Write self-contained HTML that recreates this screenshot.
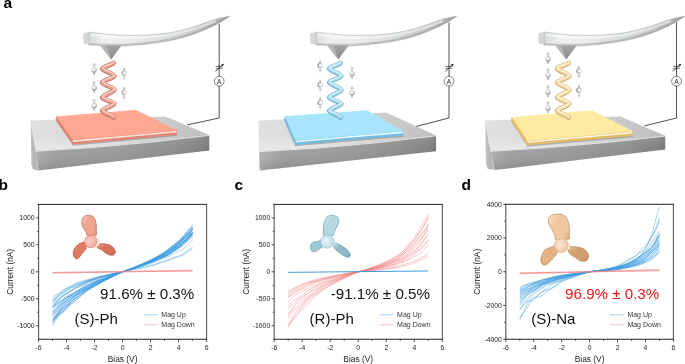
<!DOCTYPE html><html><head><meta charset="utf-8"><style>html,body{margin:0;padding:0;background:#fff;}svg{display:block;will-change:transform;}</style></head><body>
<svg width="685" height="364" viewBox="0 0 685 364">

<defs>
<linearGradient id="subTop" gradientUnits="userSpaceOnUse" x1="30" y1="0" x2="210" y2="0">
 <stop offset="0" stop-color="#dfe1e0"/><stop offset="0.4" stop-color="#d8dad9"/><stop offset="0.75" stop-color="#cacaca"/><stop offset="1" stop-color="#bebebe"/>
</linearGradient>
<linearGradient id="subTopV" x1="0" y1="0" x2="0" y2="1">
 <stop offset="0" stop-color="#fff" stop-opacity="0"/><stop offset="0.6" stop-color="#fff" stop-opacity="0"/><stop offset="1" stop-color="#fff" stop-opacity="0.35"/>
</linearGradient>
<linearGradient id="subFront" gradientUnits="userSpaceOnUse" x1="36" y1="0" x2="210" y2="0">
 <stop offset="0" stop-color="#b0b2b1"/><stop offset="0.1" stop-color="#a0a2a1"/><stop offset="0.45" stop-color="#9a9c9b"/><stop offset="0.8" stop-color="#8c8c8c"/><stop offset="0.95" stop-color="#808080"/><stop offset="1" stop-color="#747474"/>
</linearGradient>
<linearGradient id="subLeft" x1="0" y1="0" x2="1" y2="0">
 <stop offset="0" stop-color="#c6c6c6"/><stop offset="0.5" stop-color="#b4b4b4"/><stop offset="1" stop-color="#c0c0c0"/>
</linearGradient>
<linearGradient id="subFrontV" x1="0" y1="0" x2="0" y2="1">
 <stop offset="0" stop-color="#fff" stop-opacity="0.12"/><stop offset="0.35" stop-color="#fff" stop-opacity="0.03"/><stop offset="0.7" stop-color="#000" stop-opacity="0.03"/><stop offset="1" stop-color="#000" stop-opacity="0.12"/>
</linearGradient>
<linearGradient id="cantGrad" x1="0" y1="0" x2="0" y2="1">
 <stop offset="0" stop-color="#eef1f0"/><stop offset="0.35" stop-color="#e2e6e4"/><stop offset="0.75" stop-color="#d0d4d2"/><stop offset="1" stop-color="#b4b8b6"/>
</linearGradient>
<linearGradient id="cantH" gradientUnits="userSpaceOnUse" x1="89" y1="0" x2="229" y2="0">
 <stop offset="0" stop-color="#d8dcda"/><stop offset="0.1" stop-color="#eef0ef"/><stop offset="0.3" stop-color="#eaeceb"/><stop offset="0.55" stop-color="#d8dcda"/><stop offset="0.8" stop-color="#c4c8c6"/><stop offset="1" stop-color="#a4a8a6"/>
</linearGradient>
<linearGradient id="subFrontH" x1="0" y1="0" x2="1" y2="0">
 <stop offset="0" stop-color="#fff" stop-opacity="0.12"/><stop offset="0.5" stop-color="#000" stop-opacity="0"/><stop offset="0.9" stop-color="#000" stop-opacity="0.08"/><stop offset="1" stop-color="#000" stop-opacity="0.25"/>
</linearGradient>
<linearGradient id="tipGrad" x1="0" y1="0" x2="0" y2="1">
 <stop offset="0" stop-color="#a4a4a4"/><stop offset="1" stop-color="#8a8a8a"/>
</linearGradient>
<filter id="blur1" x="-10%" y="-50%" width="120%" height="200%"><feGaussianBlur stdDeviation="0.5"/></filter>
<radialGradient id="sph" cx="0.45" cy="0.4" r="0.65">
 <stop offset="0" stop-color="#ffffff"/><stop offset="0.45" stop-color="#e4e4e4"/><stop offset="1" stop-color="#7a7a7a"/>
</radialGradient>
<radialGradient id="sph2" cx="0.62" cy="0.5" r="0.7">
 <stop offset="0" stop-color="#ffffff"/><stop offset="0.4" stop-color="#e8e8e8"/><stop offset="1" stop-color="#6a6a6a"/>
</radialGradient>
<linearGradient id="pbb0" x1="0" y1="0" x2="1" y2="1"><stop offset="0" stop-color="#fac8b8"/><stop offset="0.35" stop-color="#eea592"/><stop offset="0.75" stop-color="#eea592"/><stop offset="1" stop-color="#dc8672"/></linearGradient><linearGradient id="pbb1" x1="0" y1="0" x2="1" y2="1"><stop offset="0" stop-color="#f09c88"/><stop offset="0.35" stop-color="#e07a62"/><stop offset="0.75" stop-color="#e07a62"/><stop offset="1" stop-color="#c8644e"/></linearGradient><linearGradient id="pbb2" x1="0" y1="0" x2="1" y2="1"><stop offset="0" stop-color="#eb9a84"/><stop offset="0.35" stop-color="#d4745c"/><stop offset="0.75" stop-color="#d4745c"/><stop offset="1" stop-color="#bc5e48"/></linearGradient><radialGradient id="pbh" cx="0.42" cy="0.45" r="0.62"><stop offset="0" stop-color="#fccfc4"/><stop offset="1" stop-color="#f0a898"/></radialGradient><linearGradient id="pcb0" x1="0" y1="0" x2="1" y2="1"><stop offset="0" stop-color="#d8eef6"/><stop offset="0.35" stop-color="#b4d8e2"/><stop offset="0.75" stop-color="#b4d8e2"/><stop offset="1" stop-color="#94c0d0"/></linearGradient><linearGradient id="pcb1" x1="0" y1="0" x2="1" y2="1"><stop offset="0" stop-color="#b8dce8"/><stop offset="0.35" stop-color="#9cc8d6"/><stop offset="0.75" stop-color="#9cc8d6"/><stop offset="1" stop-color="#84b2c4"/></linearGradient><linearGradient id="pcb2" x1="0" y1="0" x2="1" y2="1"><stop offset="0" stop-color="#c8e4ee"/><stop offset="0.35" stop-color="#90b8c8"/><stop offset="0.75" stop-color="#90b8c8"/><stop offset="1" stop-color="#7aa4b6"/></linearGradient><radialGradient id="pch" cx="0.42" cy="0.45" r="0.62"><stop offset="0" stop-color="#e6f6fb"/><stop offset="1" stop-color="#b8dce8"/></radialGradient><linearGradient id="pdb0" x1="0" y1="0" x2="1" y2="1"><stop offset="0" stop-color="#fbe2c6"/><stop offset="0.35" stop-color="#f0c8a0"/><stop offset="0.75" stop-color="#f0c8a0"/><stop offset="1" stop-color="#d8a676"/></linearGradient><linearGradient id="pdb1" x1="0" y1="0" x2="1" y2="1"><stop offset="0" stop-color="#f2cca4"/><stop offset="0.35" stop-color="#e4b282"/><stop offset="0.75" stop-color="#e4b282"/><stop offset="1" stop-color="#c8966a"/></linearGradient><linearGradient id="pdb2" x1="0" y1="0" x2="1" y2="1"><stop offset="0" stop-color="#ecc294"/><stop offset="0.35" stop-color="#d0a070"/><stop offset="0.75" stop-color="#d0a070"/><stop offset="1" stop-color="#b8895c"/></linearGradient><radialGradient id="pdh" cx="0.42" cy="0.45" r="0.62"><stop offset="0" stop-color="#fde6d0"/><stop offset="1" stop-color="#eec6a0"/></radialGradient></defs>
<text x="3.6" y="8" font-size="15.5" font-weight="bold" font-family="'Liberation Sans', sans-serif">a</text>
<g transform="translate(0,0)">
<polygon points="30.7,120.4 165.4,116.5 209.3,135 150,141.80400000000003 90,147.33400000000003 35.8,150.8" fill="url(#subTop)"/>
<polygon points="30.7,120.4 165.4,116.5 209.3,135 150,141.80400000000003 90,147.33400000000003 35.8,150.8" fill="url(#subTopV)"/>
<polygon points="35.8,150.8 90,147.33400000000003 150,141.80400000000003 209.3,135 209.3,150.5 38.4,170.4" fill="url(#subFront)"/>
<polygon points="35.8,150.8 90,147.33400000000003 150,141.80400000000003 209.3,135 209.3,150.5 38.4,170.4" fill="url(#subFrontV)"/>
<polygon points="30.7,120.4 35.8,150.8 38.4,170.4 32.9,169.20000000000002 31.3,164.4" fill="url(#subLeft)"/>
<polyline points="30.7,120.4 35.8,150.8" stroke="#e6e6e6" stroke-width="0.6" fill="none"/>
<polyline points="35.8,151.20000000000002 90,147.73400000000004 150,142.20400000000004 209.3,135.4" stroke="#ececec" stroke-width="0.9" fill="none"/>
<polygon points="56.4,117.8 72.10000000000001,141.6 70.7,142.6 54.9,119.3" fill="#9a9a9a" opacity="0.45" filter="url(#blur1)"/>
<polygon points="71.9,143.29999999999998 176.8,133.89999999999998 177.10000000000002,135.99999999999997 72.4,145.79999999999998" fill="#8c8c8c" opacity="0.6" filter="url(#blur1)"/>
<polygon points="56.9,116.8 72.9,139.6 176.3,130.2 176.3,134.39999999999998 72.9,143.79999999999998 56.9,121.0" fill="#e08672" stroke="#e08672" stroke-width="1.2" stroke-linejoin="round"/>
<polyline points="73.5,141.1 176.10000000000002,131.7" stroke="#ffe4dc" stroke-width="1.6" fill="none" stroke-linecap="round" stroke-linejoin="round"/>
<polygon points="56.9,116.8 135.8,110.3 176.3,130.2 72.9,139.6" fill="#fea892" stroke="#fea892" stroke-width="0.8" stroke-linejoin="round"/>
<polyline points="219.2,24 219.2,118 187.3,124.9" stroke="#222" stroke-width="0.8" fill="none"/>
<circle cx="219.2" cy="81.2" r="4.9" fill="#fff" stroke="#333" stroke-width="0.6"/>
<text x="219.2" y="83.6" font-size="6.5" text-anchor="middle" font-family="'Liberation Sans', sans-serif" fill="#222">A</text>
<line x1="215.79999999999998" y1="66.8" x2="222.6" y2="66.0" stroke="#333" stroke-width="0.7"/>
<line x1="215.79999999999998" y1="68.8" x2="222.6" y2="68.0" stroke="#333" stroke-width="0.7"/>
<line x1="215.29999999999998" y1="71.5" x2="223.29999999999998" y2="64.4" stroke="#222" stroke-width="0.7"/>
<polygon points="224.0,63.8 221.2,64.6 222.79999999999998,66.2" fill="#222"/>
<path d="M113.6,62.9 C113.6,64.64 102.2,66.96000000000001 102.2,68.7 C102.2,70.89 114.3,73.81 114.3,76 C114.3,77.95 102.2,80.55 102.2,82.5 C102.2,84.69 114.3,87.61 114.3,89.8 C114.3,92.14 102.2,95.25999999999999 102.2,97.6 C102.2,99.42999999999999 114.3,101.87 114.3,103.7 C114.3,105.83 102.2,108.67 102.2,110.8 C102.2,112.84 113.6,115.56 113.6,117.6" stroke="#c27060" stroke-width="4.8" fill="none" stroke-linecap="round"/>
<path d="M113.6,62.9 C113.6,64.64 102.2,66.96000000000001 102.2,68.7 C102.2,70.89 114.3,73.81 114.3,76 C114.3,77.95 102.2,80.55 102.2,82.5 C102.2,84.69 114.3,87.61 114.3,89.8 C114.3,92.14 102.2,95.25999999999999 102.2,97.6 C102.2,99.42999999999999 114.3,101.87 114.3,103.7 C114.3,105.83 102.2,108.67 102.2,110.8 C102.2,112.84 113.6,115.56 113.6,117.6" stroke="#eda090" stroke-width="3.5" fill="none" stroke-linecap="round" transform="translate(0.2,-0.35)"/>
<path d="M113.6,62.9 C113.6,64.64 102.2,66.96000000000001 102.2,68.7 C102.2,70.89 114.3,73.81 114.3,76 C114.3,77.95 102.2,80.55 102.2,82.5 C102.2,84.69 114.3,87.61 114.3,89.8 C114.3,92.14 102.2,95.25999999999999 102.2,97.6 C102.2,99.42999999999999 114.3,101.87 114.3,103.7 C114.3,105.83 102.2,108.67 102.2,110.8 C102.2,112.84 113.6,115.56 113.6,117.6" stroke="#fde0d8" stroke-width="1.2" fill="none" stroke-linecap="round" opacity="0.85" transform="translate(0.3,-0.9)"/>
<line x1="94.1" y1="68" x2="94.1" y2="65" stroke="#c4c4c4" stroke-width="1.3"/><polygon points="92.1,65.6 96.1,65.6 94.1,62.8" fill="#c8c8c8"/><line x1="94.1" y1="72" x2="94.1" y2="75" stroke="#8a8a8a" stroke-width="1"/><circle cx="94.1" cy="70" r="2.6" fill="url(#sph)"/>
<line x1="94.1" y1="85.9" x2="94.1" y2="82.9" stroke="#c4c4c4" stroke-width="1.3"/><polygon points="92.1,83.5 96.1,83.5 94.1,80.7" fill="#c8c8c8"/><line x1="94.1" y1="89.9" x2="94.1" y2="92.9" stroke="#8a8a8a" stroke-width="1"/><circle cx="94.1" cy="87.9" r="2.6" fill="url(#sph)"/>
<line x1="94.1" y1="103.7" x2="94.1" y2="100.7" stroke="#c4c4c4" stroke-width="1.3"/><polygon points="92.1,101.3 96.1,101.3 94.1,98.5" fill="#c8c8c8"/><line x1="94.1" y1="107.7" x2="94.1" y2="110.7" stroke="#8a8a8a" stroke-width="1"/><circle cx="94.1" cy="105.7" r="2.6" fill="url(#sph)"/>
<line x1="124.2" y1="75" x2="124.2" y2="78" stroke="#c8ccca" stroke-width="1.3"/><polygon points="122.2,77.4 126.2,77.4 124.2,80.2" fill="#ccd0ce"/><line x1="124.2" y1="71" x2="124.2" y2="68" stroke="#8a8a8a" stroke-width="1"/><circle cx="124.2" cy="73" r="2.6" fill="url(#sph2)"/>
<line x1="124.2" y1="94.3" x2="124.2" y2="97.3" stroke="#c8ccca" stroke-width="1.3"/><polygon points="122.2,96.7 126.2,96.7 124.2,99.5" fill="#ccd0ce"/><line x1="124.2" y1="90.3" x2="124.2" y2="87.3" stroke="#8a8a8a" stroke-width="1"/><circle cx="124.2" cy="92.3" r="2.6" fill="url(#sph2)"/>
<clipPath id="cantClip1"><path d="M89.00,32.00 C92.00,32.37 100.95,33.65 107.00,34.20 C113.05,34.75 118.48,35.18 125.30,35.30 C132.12,35.42 140.37,35.35 147.90,34.90 C155.43,34.45 162.97,33.92 170.50,32.60 C178.03,31.28 185.55,29.23 193.10,27.00 C200.65,24.77 209.73,21.00 215.80,19.20 C221.87,17.40 227.22,16.70 229.50,16.20 L229.50,16.40 C227.22,17.78 221.87,21.70 215.80,24.70 C209.73,27.70 200.65,31.77 193.10,34.40 C185.55,37.03 178.03,38.92 170.50,40.50 C162.97,42.08 155.43,43.02 147.90,43.90 C140.37,44.78 132.12,45.50 125.30,45.80 C118.48,46.10 113.05,45.82 107.00,45.70 C100.95,45.58 92.00,45.20 89.00,45.10 Z"/></clipPath>
<path d="M89.00,32.00 C92.00,32.37 100.95,33.65 107.00,34.20 C113.05,34.75 118.48,35.18 125.30,35.30 C132.12,35.42 140.37,35.35 147.90,34.90 C155.43,34.45 162.97,33.92 170.50,32.60 C178.03,31.28 185.55,29.23 193.10,27.00 C200.65,24.77 209.73,21.00 215.80,19.20 C221.87,17.40 227.22,16.70 229.50,16.20 L229.50,16.40 C227.22,17.78 221.87,21.70 215.80,24.70 C209.73,27.70 200.65,31.77 193.10,34.40 C185.55,37.03 178.03,38.92 170.50,40.50 C162.97,42.08 155.43,43.02 147.90,43.90 C140.37,44.78 132.12,45.50 125.30,45.80 C118.48,46.10 113.05,45.82 107.00,45.70 C100.95,45.58 92.00,45.20 89.00,45.10 Z" fill="url(#cantH)" stroke="#a0a4a2" stroke-width="0.5"/>
<path d="M91.00,34.60 C93.67,34.93 101.28,36.10 107.00,36.60 C112.72,37.10 118.48,37.53 125.30,37.60 C132.12,37.67 140.37,37.50 147.90,37.00 C155.43,36.50 162.97,35.93 170.50,34.60 C178.03,33.27 185.55,31.27 193.10,29.00 C200.65,26.73 212.02,22.33 215.80,21.00" stroke="#ffffff" stroke-width="2.6" fill="none" opacity="0.45" clip-path="url(#cantClip1)"/>
<path d="M89.00,44.20 C92.00,44.30 100.95,44.68 107.00,44.80 C113.05,44.92 118.48,45.20 125.30,44.90 C132.12,44.60 140.37,43.88 147.90,43.00 C155.43,42.12 162.97,41.18 170.50,39.60 C178.03,38.02 185.55,36.12 193.10,33.50 C200.65,30.88 209.73,26.75 215.80,23.90 C221.87,21.05 227.22,17.65 229.50,16.40" stroke="#8e9290" stroke-width="2.4" fill="none" opacity="0.4" clip-path="url(#cantClip1)"/>
<polygon points="83.2,33.2 89,31.9 89,44.8 83.4,43.5" fill="#d6d8d7"/>
<line x1="89" y1="32" x2="89" y2="44.8" stroke="#c4c8c6" stroke-width="0.6"/>
<polygon points="100.4,45.6 121.6,45.6 111.3,59.6" fill="url(#tipGrad)"/>
<polygon points="100.4,45.6 106.5,45.6 111.3,59.6" fill="#b6b6b6"/>
</g>
<g transform="translate(227,0)">
<polygon points="31.7,120.8 159.2,112.6 209.1,135.5 150,142.26600000000002 90,147.761 32.2,151.2" fill="url(#subTop)"/>
<polygon points="31.7,120.8 159.2,112.6 209.1,135.5 150,142.26600000000002 90,147.761 32.2,151.2" fill="url(#subTopV)"/>
<polygon points="32.2,151.2 90,147.761 150,142.26600000000002 209.1,135.5 209.1,151.2 32.8,170.4" fill="url(#subFront)"/>
<polygon points="32.2,151.2 90,147.761 150,142.26600000000002 209.1,135.5 209.1,151.2 32.8,170.4" fill="url(#subFrontV)"/>
<polygon points="31.7,120.8 32.2,151.2 32.8,170.4 33.9,169.20000000000002 32.3,164.4" fill="url(#subLeft)"/>
<polyline points="31.7,120.8 32.2,151.2" stroke="#e6e6e6" stroke-width="0.6" fill="none"/>
<polyline points="32.2,151.6 90,148.161 150,142.66600000000003 209.1,135.9" stroke="#ececec" stroke-width="0.9" fill="none"/>
<polygon points="57.8,117.5 67.8,142 66.39999999999999,143 56.3,119.0" fill="#9a9a9a" opacity="0.45" filter="url(#blur1)"/>
<polygon points="67.6,143.7 176.1,134.6 176.4,136.7 68.1,146.2" fill="#8c8c8c" opacity="0.6" filter="url(#blur1)"/>
<polygon points="58.3,116.5 68.6,140 175.6,130.9 175.6,135.1 68.6,144.2 58.3,120.7" fill="#72bce0" stroke="#72bce0" stroke-width="1.2" stroke-linejoin="round"/>
<polyline points="69.19999999999999,141.5 175.4,132.4" stroke="#e8f8ff" stroke-width="1.6" fill="none" stroke-linecap="round" stroke-linejoin="round"/>
<polygon points="58.3,116.5 140,110.7 175.6,130.9 68.6,140" fill="#a8e4fc" stroke="#a8e4fc" stroke-width="0.8" stroke-linejoin="round"/>
<polyline points="222,22.5 222,118 189.3,126.4" stroke="#222" stroke-width="0.8" fill="none"/>
<circle cx="222" cy="81.2" r="4.9" fill="#fff" stroke="#333" stroke-width="0.6"/>
<text x="222" y="83.6" font-size="6.5" text-anchor="middle" font-family="'Liberation Sans', sans-serif" fill="#222">A</text>
<line x1="218.6" y1="66.8" x2="225.4" y2="66.0" stroke="#333" stroke-width="0.7"/>
<line x1="218.6" y1="68.8" x2="225.4" y2="68.0" stroke="#333" stroke-width="0.7"/>
<line x1="218.1" y1="71.5" x2="226.1" y2="64.4" stroke="#222" stroke-width="0.7"/>
<polygon points="226.8,63.8 224,64.6 225.6,66.2" fill="#222"/>
<path d="M113.6,62.9 C113.6,64.64 102.2,66.96000000000001 102.2,68.7 C102.2,70.89 114.3,73.81 114.3,76 C114.3,77.95 102.2,80.55 102.2,82.5 C102.2,84.69 114.3,87.61 114.3,89.8 C114.3,92.14 102.2,95.25999999999999 102.2,97.6 C102.2,99.42999999999999 114.3,101.87 114.3,103.7 C114.3,105.83 102.2,108.67 102.2,110.8 C102.2,112.84 113.6,115.56 113.6,117.6" stroke="#6aaccc" stroke-width="4.8" fill="none" stroke-linecap="round"/>
<path d="M113.6,62.9 C113.6,64.64 102.2,66.96000000000001 102.2,68.7 C102.2,70.89 114.3,73.81 114.3,76 C114.3,77.95 102.2,80.55 102.2,82.5 C102.2,84.69 114.3,87.61 114.3,89.8 C114.3,92.14 102.2,95.25999999999999 102.2,97.6 C102.2,99.42999999999999 114.3,101.87 114.3,103.7 C114.3,105.83 102.2,108.67 102.2,110.8 C102.2,112.84 113.6,115.56 113.6,117.6" stroke="#a8daf0" stroke-width="3.5" fill="none" stroke-linecap="round" transform="translate(0.2,-0.35)"/>
<path d="M113.6,62.9 C113.6,64.64 102.2,66.96000000000001 102.2,68.7 C102.2,70.89 114.3,73.81 114.3,76 C114.3,77.95 102.2,80.55 102.2,82.5 C102.2,84.69 114.3,87.61 114.3,89.8 C114.3,92.14 102.2,95.25999999999999 102.2,97.6 C102.2,99.42999999999999 114.3,101.87 114.3,103.7 C114.3,105.83 102.2,108.67 102.2,110.8 C102.2,112.84 113.6,115.56 113.6,117.6" stroke="#e6f7fd" stroke-width="1.2" fill="none" stroke-linecap="round" opacity="0.85" transform="translate(0.3,-0.9)"/>
<line x1="93.1" y1="67.4" x2="93.1" y2="70.4" stroke="#c8ccca" stroke-width="1.3"/><polygon points="91.1,69.80000000000001 95.1,69.80000000000001 93.1,72.60000000000001" fill="#ccd0ce"/><line x1="93.1" y1="63.400000000000006" x2="93.1" y2="60.400000000000006" stroke="#8a8a8a" stroke-width="1"/><circle cx="93.1" cy="65.4" r="2.6" fill="url(#sph2)"/>
<line x1="93.1" y1="86.7" x2="93.1" y2="89.7" stroke="#c8ccca" stroke-width="1.3"/><polygon points="91.1,89.10000000000001 95.1,89.10000000000001 93.1,91.9" fill="#ccd0ce"/><line x1="93.1" y1="82.7" x2="93.1" y2="79.7" stroke="#8a8a8a" stroke-width="1"/><circle cx="93.1" cy="84.7" r="2.6" fill="url(#sph2)"/>
<line x1="93.1" y1="104.4" x2="93.1" y2="107.4" stroke="#c8ccca" stroke-width="1.3"/><polygon points="91.1,106.80000000000001 95.1,106.80000000000001 93.1,109.60000000000001" fill="#ccd0ce"/><line x1="93.1" y1="100.4" x2="93.1" y2="97.4" stroke="#8a8a8a" stroke-width="1"/><circle cx="93.1" cy="102.4" r="2.6" fill="url(#sph2)"/>
<line x1="125" y1="71.6" x2="125" y2="68.6" stroke="#c4c4c4" stroke-width="1.3"/><polygon points="123,69.19999999999999 127,69.19999999999999 125,66.39999999999999" fill="#c8c8c8"/><line x1="125" y1="75.6" x2="125" y2="78.6" stroke="#8a8a8a" stroke-width="1"/><circle cx="125" cy="73.6" r="2.6" fill="url(#sph)"/>
<line x1="125" y1="90.8" x2="125" y2="87.8" stroke="#c4c4c4" stroke-width="1.3"/><polygon points="123,88.39999999999999 127,88.39999999999999 125,85.6" fill="#c8c8c8"/><line x1="125" y1="94.8" x2="125" y2="97.8" stroke="#8a8a8a" stroke-width="1"/><circle cx="125" cy="92.8" r="2.6" fill="url(#sph)"/>
<clipPath id="cantClip2"><path d="M89.00,32.00 C92.00,32.37 100.95,33.65 107.00,34.20 C113.05,34.75 118.48,35.18 125.30,35.30 C132.12,35.42 140.37,35.35 147.90,34.90 C155.43,34.45 162.97,33.92 170.50,32.60 C178.03,31.28 185.55,29.23 193.10,27.00 C200.65,24.77 209.73,21.00 215.80,19.20 C221.87,17.40 227.22,16.70 229.50,16.20 L229.50,16.40 C227.22,17.78 221.87,21.70 215.80,24.70 C209.73,27.70 200.65,31.77 193.10,34.40 C185.55,37.03 178.03,38.92 170.50,40.50 C162.97,42.08 155.43,43.02 147.90,43.90 C140.37,44.78 132.12,45.50 125.30,45.80 C118.48,46.10 113.05,45.82 107.00,45.70 C100.95,45.58 92.00,45.20 89.00,45.10 Z"/></clipPath>
<path d="M89.00,32.00 C92.00,32.37 100.95,33.65 107.00,34.20 C113.05,34.75 118.48,35.18 125.30,35.30 C132.12,35.42 140.37,35.35 147.90,34.90 C155.43,34.45 162.97,33.92 170.50,32.60 C178.03,31.28 185.55,29.23 193.10,27.00 C200.65,24.77 209.73,21.00 215.80,19.20 C221.87,17.40 227.22,16.70 229.50,16.20 L229.50,16.40 C227.22,17.78 221.87,21.70 215.80,24.70 C209.73,27.70 200.65,31.77 193.10,34.40 C185.55,37.03 178.03,38.92 170.50,40.50 C162.97,42.08 155.43,43.02 147.90,43.90 C140.37,44.78 132.12,45.50 125.30,45.80 C118.48,46.10 113.05,45.82 107.00,45.70 C100.95,45.58 92.00,45.20 89.00,45.10 Z" fill="url(#cantH)" stroke="#a0a4a2" stroke-width="0.5"/>
<path d="M91.00,34.60 C93.67,34.93 101.28,36.10 107.00,36.60 C112.72,37.10 118.48,37.53 125.30,37.60 C132.12,37.67 140.37,37.50 147.90,37.00 C155.43,36.50 162.97,35.93 170.50,34.60 C178.03,33.27 185.55,31.27 193.10,29.00 C200.65,26.73 212.02,22.33 215.80,21.00" stroke="#ffffff" stroke-width="2.6" fill="none" opacity="0.45" clip-path="url(#cantClip2)"/>
<path d="M89.00,44.20 C92.00,44.30 100.95,44.68 107.00,44.80 C113.05,44.92 118.48,45.20 125.30,44.90 C132.12,44.60 140.37,43.88 147.90,43.00 C155.43,42.12 162.97,41.18 170.50,39.60 C178.03,38.02 185.55,36.12 193.10,33.50 C200.65,30.88 209.73,26.75 215.80,23.90 C221.87,21.05 227.22,17.65 229.50,16.40" stroke="#8e9290" stroke-width="2.4" fill="none" opacity="0.4" clip-path="url(#cantClip2)"/>
<polygon points="83.2,33.2 89,31.9 89,44.8 83.4,43.5" fill="#d6d8d7"/>
<line x1="89" y1="32" x2="89" y2="44.8" stroke="#c4c8c6" stroke-width="0.6"/>
<polygon points="100.4,45.6 121.6,45.6 111.3,59.6" fill="url(#tipGrad)"/>
<polygon points="100.4,45.6 106.5,45.6 111.3,59.6" fill="#b6b6b6"/>
</g>
<g transform="translate(455,0)">
<polygon points="30.3,120.6 165.5,116.4 210.2,135.7 150,142.238 90,147.52300000000002 35.5,150.8" fill="url(#subTop)"/>
<polygon points="30.3,120.6 165.5,116.4 210.2,135.7 150,142.238 90,147.52300000000002 35.5,150.8" fill="url(#subTopV)"/>
<polygon points="35.5,150.8 90,147.52300000000002 150,142.238 210.2,135.7 210.2,149.5 39.6,170" fill="url(#subFront)"/>
<polygon points="35.5,150.8 90,147.52300000000002 150,142.238 210.2,135.7 210.2,149.5 39.6,170" fill="url(#subFrontV)"/>
<polygon points="30.3,120.6 35.5,150.8 39.6,170 32.5,168.8 30.900000000000002,164" fill="url(#subLeft)"/>
<polyline points="30.3,120.6 35.5,150.8" stroke="#e6e6e6" stroke-width="0.6" fill="none"/>
<polyline points="35.5,151.20000000000002 90,147.92300000000003 150,142.638 210.2,136.1" stroke="#ececec" stroke-width="0.9" fill="none"/>
<polygon points="56.6,118.5 71.7,142.5 70.3,143.5 55.1,120.0" fill="#9a9a9a" opacity="0.45" filter="url(#blur1)"/>
<polygon points="71.5,144.2 177.6,134.89999999999998 177.9,136.99999999999997 72.0,146.7" fill="#8c8c8c" opacity="0.6" filter="url(#blur1)"/>
<polygon points="57.1,117.5 72.5,140.5 177.1,131.2 177.1,135.39999999999998 72.5,144.7 57.1,121.7" fill="#e0bc68" stroke="#e0bc68" stroke-width="1.2" stroke-linejoin="round"/>
<polyline points="73.1,142.0 176.9,132.7" stroke="#fff8e0" stroke-width="1.6" fill="none" stroke-linecap="round" stroke-linejoin="round"/>
<polygon points="57.1,117.5 137,110.7 177.1,131.2 72.5,140.5" fill="#feeaa2" stroke="#feeaa2" stroke-width="0.8" stroke-linejoin="round"/>
<polyline points="221.5,22.4 221.5,118 189.3,125.9" stroke="#222" stroke-width="0.8" fill="none"/>
<circle cx="221.5" cy="81.2" r="4.9" fill="#fff" stroke="#333" stroke-width="0.6"/>
<text x="221.5" y="83.6" font-size="6.5" text-anchor="middle" font-family="'Liberation Sans', sans-serif" fill="#222">A</text>
<line x1="218.1" y1="66.8" x2="224.9" y2="66.0" stroke="#333" stroke-width="0.7"/>
<line x1="218.1" y1="68.8" x2="224.9" y2="68.0" stroke="#333" stroke-width="0.7"/>
<line x1="217.6" y1="71.5" x2="225.6" y2="64.4" stroke="#222" stroke-width="0.7"/>
<polygon points="226.3,63.8 223.5,64.6 225.1,66.2" fill="#222"/>
<path d="M113.6,62.9 C113.6,64.64 102.2,66.96000000000001 102.2,68.7 C102.2,70.89 114.3,73.81 114.3,76 C114.3,77.95 102.2,80.55 102.2,82.5 C102.2,84.69 114.3,87.61 114.3,89.8 C114.3,92.14 102.2,95.25999999999999 102.2,97.6 C102.2,99.42999999999999 114.3,101.87 114.3,103.7 C114.3,105.83 102.2,108.67 102.2,110.8 C102.2,112.84 113.6,115.56 113.6,117.6" stroke="#caa868" stroke-width="4.8" fill="none" stroke-linecap="round"/>
<path d="M113.6,62.9 C113.6,64.64 102.2,66.96000000000001 102.2,68.7 C102.2,70.89 114.3,73.81 114.3,76 C114.3,77.95 102.2,80.55 102.2,82.5 C102.2,84.69 114.3,87.61 114.3,89.8 C114.3,92.14 102.2,95.25999999999999 102.2,97.6 C102.2,99.42999999999999 114.3,101.87 114.3,103.7 C114.3,105.83 102.2,108.67 102.2,110.8 C102.2,112.84 113.6,115.56 113.6,117.6" stroke="#f4dcaa" stroke-width="3.5" fill="none" stroke-linecap="round" transform="translate(0.2,-0.35)"/>
<path d="M113.6,62.9 C113.6,64.64 102.2,66.96000000000001 102.2,68.7 C102.2,70.89 114.3,73.81 114.3,76 C114.3,77.95 102.2,80.55 102.2,82.5 C102.2,84.69 114.3,87.61 114.3,89.8 C114.3,92.14 102.2,95.25999999999999 102.2,97.6 C102.2,99.42999999999999 114.3,101.87 114.3,103.7 C114.3,105.83 102.2,108.67 102.2,110.8 C102.2,112.84 113.6,115.56 113.6,117.6" stroke="#fff8e8" stroke-width="1.2" fill="none" stroke-linecap="round" opacity="0.85" transform="translate(0.3,-0.9)"/>
<line x1="93" y1="56.9" x2="93" y2="53.9" stroke="#c4c4c4" stroke-width="1.3"/><polygon points="91,54.5 95,54.5 93,51.699999999999996" fill="#c8c8c8"/><line x1="93" y1="60.9" x2="93" y2="63.9" stroke="#8a8a8a" stroke-width="1"/><circle cx="93" cy="58.9" r="2.6" fill="url(#sph)"/>
<line x1="93" y1="73" x2="93" y2="70" stroke="#c4c4c4" stroke-width="1.3"/><polygon points="91,70.6 95,70.6 93,67.8" fill="#c8c8c8"/><line x1="93" y1="77" x2="93" y2="80" stroke="#8a8a8a" stroke-width="1"/><circle cx="93" cy="75" r="2.6" fill="url(#sph)"/>
<line x1="93" y1="90" x2="93" y2="87" stroke="#c4c4c4" stroke-width="1.3"/><polygon points="91,87.6 95,87.6 93,84.8" fill="#c8c8c8"/><line x1="93" y1="94" x2="93" y2="97" stroke="#8a8a8a" stroke-width="1"/><circle cx="93" cy="92" r="2.6" fill="url(#sph)"/>
<line x1="93" y1="106" x2="93" y2="103" stroke="#c4c4c4" stroke-width="1.3"/><polygon points="91,103.6 95,103.6 93,100.8" fill="#c8c8c8"/><line x1="93" y1="110" x2="93" y2="113" stroke="#8a8a8a" stroke-width="1"/><circle cx="93" cy="108" r="2.6" fill="url(#sph)"/>
<line x1="123.9" y1="73.1" x2="123.9" y2="76.1" stroke="#c8ccca" stroke-width="1.3"/><polygon points="121.9,75.5 125.9,75.5 123.9,78.3" fill="#ccd0ce"/><line x1="123.9" y1="69.1" x2="123.9" y2="66.1" stroke="#8a8a8a" stroke-width="1"/><circle cx="123.9" cy="71.1" r="2.6" fill="url(#sph2)"/>
<line x1="123.9" y1="92.2" x2="123.9" y2="95.2" stroke="#c8ccca" stroke-width="1.3"/><polygon points="121.9,94.60000000000001 125.9,94.60000000000001 123.9,97.4" fill="#ccd0ce"/><line x1="123.9" y1="88.2" x2="123.9" y2="85.2" stroke="#8a8a8a" stroke-width="1"/><circle cx="123.9" cy="90.2" r="2.6" fill="url(#sph2)"/>
<clipPath id="cantClip3"><path d="M89.00,32.00 C92.00,32.37 100.95,33.65 107.00,34.20 C113.05,34.75 118.48,35.18 125.30,35.30 C132.12,35.42 140.37,35.35 147.90,34.90 C155.43,34.45 162.97,33.92 170.50,32.60 C178.03,31.28 185.55,29.23 193.10,27.00 C200.65,24.77 209.73,21.00 215.80,19.20 C221.87,17.40 227.22,16.70 229.50,16.20 L229.50,16.40 C227.22,17.78 221.87,21.70 215.80,24.70 C209.73,27.70 200.65,31.77 193.10,34.40 C185.55,37.03 178.03,38.92 170.50,40.50 C162.97,42.08 155.43,43.02 147.90,43.90 C140.37,44.78 132.12,45.50 125.30,45.80 C118.48,46.10 113.05,45.82 107.00,45.70 C100.95,45.58 92.00,45.20 89.00,45.10 Z"/></clipPath>
<path d="M89.00,32.00 C92.00,32.37 100.95,33.65 107.00,34.20 C113.05,34.75 118.48,35.18 125.30,35.30 C132.12,35.42 140.37,35.35 147.90,34.90 C155.43,34.45 162.97,33.92 170.50,32.60 C178.03,31.28 185.55,29.23 193.10,27.00 C200.65,24.77 209.73,21.00 215.80,19.20 C221.87,17.40 227.22,16.70 229.50,16.20 L229.50,16.40 C227.22,17.78 221.87,21.70 215.80,24.70 C209.73,27.70 200.65,31.77 193.10,34.40 C185.55,37.03 178.03,38.92 170.50,40.50 C162.97,42.08 155.43,43.02 147.90,43.90 C140.37,44.78 132.12,45.50 125.30,45.80 C118.48,46.10 113.05,45.82 107.00,45.70 C100.95,45.58 92.00,45.20 89.00,45.10 Z" fill="url(#cantH)" stroke="#a0a4a2" stroke-width="0.5"/>
<path d="M91.00,34.60 C93.67,34.93 101.28,36.10 107.00,36.60 C112.72,37.10 118.48,37.53 125.30,37.60 C132.12,37.67 140.37,37.50 147.90,37.00 C155.43,36.50 162.97,35.93 170.50,34.60 C178.03,33.27 185.55,31.27 193.10,29.00 C200.65,26.73 212.02,22.33 215.80,21.00" stroke="#ffffff" stroke-width="2.6" fill="none" opacity="0.45" clip-path="url(#cantClip3)"/>
<path d="M89.00,44.20 C92.00,44.30 100.95,44.68 107.00,44.80 C113.05,44.92 118.48,45.20 125.30,44.90 C132.12,44.60 140.37,43.88 147.90,43.00 C155.43,42.12 162.97,41.18 170.50,39.60 C178.03,38.02 185.55,36.12 193.10,33.50 C200.65,30.88 209.73,26.75 215.80,23.90 C221.87,21.05 227.22,17.65 229.50,16.40" stroke="#8e9290" stroke-width="2.4" fill="none" opacity="0.4" clip-path="url(#cantClip3)"/>
<polygon points="83.2,33.2 89,31.9 89,44.8 83.4,43.5" fill="#d6d8d7"/>
<line x1="89" y1="32" x2="89" y2="44.8" stroke="#c4c8c6" stroke-width="0.6"/>
<polygon points="100.4,45.6 121.6,45.6 111.3,59.6" fill="url(#tipGrad)"/>
<polygon points="100.4,45.6 106.5,45.6 111.3,59.6" fill="#b6b6b6"/>
</g>
<polyline points="52.60,296.72 54.35,295.87 56.10,294.98 57.85,293.94 59.60,292.73 61.35,291.44 63.10,290.18 64.85,289.06 66.60,288.10 68.35,287.26 70.10,286.43 71.85,285.57 73.60,284.64 75.35,283.70 77.10,282.82 78.85,282.08 80.60,281.48 82.35,280.99 84.10,280.55 85.85,280.09 87.60,279.60 89.35,279.10 91.10,278.60 92.85,278.13 94.60,277.71 96.35,277.32 98.10,276.92 99.85,276.52 101.60,276.09 103.35,275.67 105.10,275.25 106.85,274.86 108.60,274.49 110.35,274.13 112.10,273.79 113.85,273.45 115.60,273.12 117.35,272.78 119.10,272.45 120.85,272.13 122.60,271.80 124.35,271.28 126.10,270.76 127.85,270.24 129.60,269.70 131.35,269.16 133.10,268.62 134.85,268.08 136.60,267.52 138.35,266.94 140.10,266.34 141.85,265.72 143.60,265.11 145.35,264.51 147.10,263.95 148.85,263.41 150.60,262.86 152.35,262.25 154.10,261.56 155.85,260.80 157.60,260.01 159.35,259.20 161.10,258.43 162.85,257.66 164.60,256.83 166.35,255.82 168.10,254.63 169.85,253.29 171.60,251.94 173.35,250.68 175.10,249.57 176.85,248.59 178.60,247.62 180.35,246.52 182.10,245.21 183.85,243.73 185.60,242.21 187.35,240.81 189.10,239.60 190.85,238.52 192.60,237.38" fill="none" stroke="#3f9be0" stroke-width="0.5" opacity="0.85" stroke-linejoin="round"/>
<polyline points="52.60,298.95 54.35,297.68 56.10,296.29 57.85,294.75 59.60,293.14 61.35,291.61 63.10,290.27 64.85,289.19 66.60,288.31 68.35,287.53 70.10,286.75 71.85,285.93 73.60,285.07 75.35,284.25 77.10,283.53 78.85,282.94 80.60,282.46 82.35,282.00 84.10,281.51 85.85,280.95 87.60,280.33 89.35,279.69 91.10,279.09 92.85,278.54 94.60,278.04 96.35,277.58 98.10,277.12 99.85,276.66 101.60,276.20 103.35,275.76 105.10,275.34 106.85,274.96 108.60,274.60 110.35,274.24 112.10,273.89 113.85,273.54 115.60,273.19 117.35,272.84 119.10,272.49 120.85,272.15 122.60,271.80 124.35,271.22 126.10,270.63 127.85,270.03 129.60,269.43 131.35,268.84 133.10,268.24 134.85,267.65 136.60,267.04 138.35,266.42 140.10,265.78 141.85,265.13 143.60,264.48 145.35,263.85 147.10,263.22 148.85,262.56 150.60,261.82 152.35,260.98 154.10,260.03 155.85,259.02 157.60,258.01 159.35,257.06 161.10,256.17 162.85,255.28 164.60,254.31 166.35,253.19 168.10,251.95 169.85,250.70 171.60,249.56 173.35,248.58 175.10,247.75 176.85,246.92 178.60,245.93 180.35,244.64 182.10,243.05 183.85,241.26 185.60,239.45 187.35,237.73 189.10,236.12 190.85,234.45 192.60,232.51" fill="none" stroke="#3f9be0" stroke-width="0.5" opacity="0.85" stroke-linejoin="round"/>
<polyline points="52.60,300.39 54.35,299.18 56.10,297.76 57.85,296.19 59.60,294.60 61.35,293.14 63.10,291.88 64.85,290.80 66.60,289.81 68.35,288.81 70.10,287.75 71.85,286.64 73.60,285.58 75.35,284.64 77.10,283.88 78.85,283.27 80.60,282.77 82.35,282.26 84.10,281.71 85.85,281.11 87.60,280.51 89.35,279.93 91.10,279.41 92.85,278.92 94.60,278.46 96.35,277.99 98.10,277.50 99.85,276.99 101.60,276.49 103.35,276.01 105.10,275.57 106.85,275.16 108.60,274.76 110.35,274.38 112.10,274.00 113.85,273.62 115.60,273.25 117.35,272.89 119.10,272.52 120.85,272.16 122.60,271.80 124.35,271.16 126.10,270.52 127.85,269.88 129.60,269.23 131.35,268.57 133.10,267.91 134.85,267.24 136.60,266.55 138.35,265.83 140.10,265.11 141.85,264.40 143.60,263.72 145.35,263.06 147.10,262.41 148.85,261.71 150.60,260.94 152.35,260.07 154.10,259.14 155.85,258.20 157.60,257.27 159.35,256.35 161.10,255.39 162.85,254.32 164.60,253.04 166.35,251.58 168.10,250.04 169.85,248.57 171.60,247.27 173.35,246.14 175.10,245.09 176.85,243.96 178.60,242.62 180.35,241.04 182.10,239.33 183.85,237.66 185.60,236.16 187.35,234.84 189.10,233.54 190.85,231.99 192.60,229.95" fill="none" stroke="#3f9be0" stroke-width="0.5" opacity="0.85" stroke-linejoin="round"/>
<polyline points="52.60,300.99 54.35,299.24 56.10,297.76 57.85,296.45 59.60,295.15 61.35,293.78 63.10,292.35 64.85,290.97 66.60,289.75 68.35,288.78 70.10,288.02 71.85,287.39 73.60,286.77 75.35,286.08 77.10,285.30 78.85,284.47 80.60,283.68 82.35,282.97 84.10,282.36 85.85,281.78 87.60,281.20 89.35,280.56 91.10,279.88 92.85,279.21 94.60,278.58 96.35,278.01 98.10,277.50 99.85,277.04 101.60,276.61 103.35,276.17 105.10,275.74 106.85,275.31 108.60,274.90 110.35,274.50 112.10,274.11 113.85,273.72 115.60,273.34 117.35,272.95 119.10,272.56 120.85,272.18 122.60,271.80 124.35,271.34 126.10,270.89 127.85,270.43 129.60,269.96 131.35,269.49 133.10,269.02 134.85,268.56 136.60,268.10 138.35,267.64 140.10,267.17 141.85,266.67 143.60,266.14 145.35,265.57 147.10,264.98 148.85,264.40 150.60,263.82 152.35,263.23 154.10,262.58 155.85,261.85 157.60,261.03 159.35,260.17 161.10,259.34 162.85,258.59 164.60,257.95 166.35,257.36 168.10,256.73 169.85,255.98 171.60,255.10 173.35,254.11 175.10,253.13 176.85,252.22 178.60,251.39 180.35,250.58 182.10,249.63 183.85,248.41 185.60,246.88 187.35,245.09 189.10,243.22 190.85,241.43 192.60,239.80" fill="none" stroke="#3f9be0" stroke-width="0.5" opacity="0.85" stroke-linejoin="round"/>
<polyline points="52.60,302.79 54.35,300.82 56.10,298.78 57.85,296.86 59.60,295.21 61.35,293.87 63.10,292.79 64.85,291.82 66.60,290.85 68.35,289.81 70.10,288.73 71.85,287.71 73.60,286.83 75.35,286.11 77.10,285.52 78.85,284.96 80.60,284.35 82.35,283.64 84.10,282.85 85.85,282.06 87.60,281.31 89.35,280.63 91.10,280.03 92.85,279.46 94.60,278.89 96.35,278.32 98.10,277.76 99.85,277.21 101.60,276.71 103.35,276.25 105.10,275.83 106.85,275.42 108.60,275.01 110.35,274.60 112.10,274.19 113.85,273.78 115.60,273.38 117.35,272.98 119.10,272.59 120.85,272.19 122.60,271.80 124.35,271.24 126.10,270.69 127.85,270.13 129.60,269.57 131.35,269.01 133.10,268.44 134.85,267.87 136.60,267.28 138.35,266.69 140.10,266.10 141.85,265.51 143.60,264.93 145.35,264.32 147.10,263.65 148.85,262.90 150.60,262.07 152.35,261.20 154.10,260.33 155.85,259.49 157.60,258.69 159.35,257.89 161.10,257.03 162.85,256.05 164.60,254.98 166.35,253.90 168.10,252.92 169.85,252.08 171.60,251.36 173.35,250.62 175.10,249.72 176.85,248.57 178.60,247.16 180.35,245.60 182.10,244.03 183.85,242.55 185.60,241.15 187.35,239.68 189.10,237.96 190.85,235.85 192.60,233.36" fill="none" stroke="#3f9be0" stroke-width="0.5" opacity="0.85" stroke-linejoin="round"/>
<polyline points="52.60,302.59 54.35,301.39 56.10,300.27 57.85,299.07 59.60,297.71 61.35,296.29 63.10,294.91 64.85,293.71 66.60,292.70 68.35,291.81 70.10,290.93 71.85,289.94 73.60,288.82 75.35,287.62 77.10,286.44 78.85,285.38 80.60,284.48 82.35,283.72 84.10,283.02 85.85,282.33 87.60,281.61 89.35,280.91 91.10,280.24 92.85,279.64 94.60,279.12 96.35,278.65 98.10,278.19 99.85,277.73 101.60,277.24 103.35,276.73 105.10,276.23 106.85,275.74 108.60,275.27 110.35,274.81 112.10,274.37 113.85,273.93 115.60,273.49 117.35,273.06 119.10,272.64 120.85,272.22 122.60,271.80 124.35,271.25 126.10,270.71 127.85,270.15 129.60,269.60 131.35,269.04 133.10,268.48 134.85,267.91 136.60,267.33 138.35,266.72 140.10,266.08 141.85,265.40 143.60,264.70 145.35,264.01 147.10,263.35 148.85,262.71 150.60,262.06 152.35,261.38 154.10,260.64 155.85,259.85 157.60,259.06 159.35,258.31 161.10,257.63 162.85,256.98 164.60,256.28 166.35,255.40 168.10,254.30 169.85,253.01 171.60,251.62 173.35,250.25 175.10,248.98 176.85,247.78 178.60,246.55 180.35,245.14 182.10,243.48 183.85,241.63 185.60,239.72 187.35,237.96 189.10,236.46 190.85,235.23 192.60,234.06" fill="none" stroke="#3f9be0" stroke-width="0.5" opacity="0.85" stroke-linejoin="round"/>
<polyline points="52.60,304.63 54.35,303.51 56.10,302.28 57.85,300.83 59.60,299.22 61.35,297.57 63.10,296.05 64.85,294.74 66.60,293.59 68.35,292.52 70.10,291.40 71.85,290.17 73.60,288.86 75.35,287.58 77.10,286.42 78.85,285.46 80.60,284.68 82.35,284.02 84.10,283.37 85.85,282.70 87.60,282.00 89.35,281.32 91.10,280.68 92.85,280.11 94.60,279.59 96.35,279.09 98.10,278.57 99.85,278.04 101.60,277.48 103.35,276.91 105.10,276.37 106.85,275.86 108.60,275.37 110.35,274.90 112.10,274.44 113.85,273.99 115.60,273.54 117.35,273.10 119.10,272.66 120.85,272.23 122.60,271.80 124.35,271.21 126.10,270.61 127.85,270.01 129.60,269.40 131.35,268.79 133.10,268.17 134.85,267.55 136.60,266.90 138.35,266.22 140.10,265.52 141.85,264.81 143.60,264.10 145.35,263.42 147.10,262.78 148.85,262.14 150.60,261.48 152.35,260.75 154.10,259.95 155.85,259.10 157.60,258.25 159.35,257.43 161.10,256.63 162.85,255.79 164.60,254.82 166.35,253.61 168.10,252.19 169.85,250.66 171.60,249.15 173.35,247.78 175.10,246.54 176.85,245.37 178.60,244.11 180.35,242.65 182.10,240.96 183.85,239.18 185.60,237.47 187.35,235.99 189.10,234.74 190.85,233.59 192.60,232.27" fill="none" stroke="#3f9be0" stroke-width="0.5" opacity="0.85" stroke-linejoin="round"/>
<polyline points="52.60,306.57 54.35,304.24 56.10,301.94 57.85,299.88 59.60,298.19 61.35,296.86 63.10,295.78 64.85,294.75 66.60,293.66 68.35,292.49 70.10,291.28 71.85,290.17 73.60,289.21 75.35,288.42 77.10,287.72 78.85,287.02 80.60,286.21 82.35,285.30 84.10,284.32 85.85,283.38 87.60,282.52 89.35,281.75 91.10,281.08 92.85,280.43 94.60,279.80 96.35,279.15 98.10,278.52 99.85,277.93 101.60,277.38 103.35,276.88 105.10,276.41 106.85,275.95 108.60,275.49 110.35,275.01 112.10,274.54 113.85,274.07 115.60,273.61 117.35,273.15 119.10,272.70 120.85,272.25 122.60,271.80 124.35,271.18 126.10,270.56 127.85,269.94 129.60,269.32 131.35,268.70 133.10,268.07 134.85,267.43 136.60,266.77 138.35,266.11 140.10,265.45 141.85,264.78 143.60,264.11 145.35,263.39 147.10,262.60 148.85,261.72 150.60,260.78 152.35,259.81 154.10,258.87 155.85,257.99 157.60,257.14 159.35,256.30 161.10,255.36 162.85,254.30 164.60,253.17 166.35,252.06 168.10,251.08 169.85,250.23 171.60,249.44 173.35,248.54 175.10,247.39 176.85,245.93 178.60,244.20 180.35,242.35 182.10,240.55 183.85,238.87 185.60,237.24 187.35,235.50 189.10,233.43 190.85,230.97 192.60,228.19" fill="none" stroke="#3f9be0" stroke-width="0.5" opacity="0.85" stroke-linejoin="round"/>
<polyline points="52.60,307.76 54.35,305.80 56.10,303.65 57.85,301.42 59.60,299.30 61.35,297.48 63.10,296.01 64.85,294.84 66.60,293.82 68.35,292.80 70.10,291.71 71.85,290.56 73.60,289.44 75.35,288.44 77.10,287.61 78.85,286.92 80.60,286.27 82.35,285.57 84.10,284.77 85.85,283.89 87.60,282.98 89.35,282.12 91.10,281.34 92.85,280.65 94.60,280.02 96.35,279.40 98.10,278.77 99.85,278.15 101.60,277.56 103.35,277.00 105.10,276.48 106.85,276.00 108.60,275.53 110.35,275.06 112.10,274.59 113.85,274.12 115.60,273.64 117.35,273.18 119.10,272.72 120.85,272.26 122.60,271.80 124.35,271.23 126.10,270.66 127.85,270.09 129.60,269.51 131.35,268.94 133.10,268.37 134.85,267.79 136.60,267.20 138.35,266.60 140.10,265.97 141.85,265.35 143.60,264.74 145.35,264.12 147.10,263.48 148.85,262.77 150.60,261.97 152.35,261.08 154.10,260.13 155.85,259.19 157.60,258.29 159.35,257.47 161.10,256.67 162.85,255.80 164.60,254.81 166.35,253.71 168.10,252.58 169.85,251.54 171.60,250.64 173.35,249.87 175.10,249.09 176.85,248.14 178.60,246.92 180.35,245.39 182.10,243.66 183.85,241.89 185.60,240.21 187.35,238.63 189.10,237.03 190.85,235.21 192.60,233.00" fill="none" stroke="#3f9be0" stroke-width="0.5" opacity="0.85" stroke-linejoin="round"/>
<polyline points="52.60,306.96 54.35,304.89 56.10,303.21 57.85,301.94 59.60,300.95 61.35,300.04 63.10,299.03 64.85,297.86 66.60,296.59 68.35,295.36 70.10,294.29 71.85,293.39 73.60,292.61 75.35,291.82 77.10,290.91 78.85,289.84 80.60,288.65 82.35,287.47 84.10,286.39 85.85,285.46 87.60,284.65 89.35,283.89 91.10,283.14 92.85,282.37 94.60,281.59 96.35,280.84 98.10,280.16 99.85,279.54 101.60,278.95 103.35,278.38 105.10,277.80 106.85,277.19 108.60,276.56 110.35,275.94 112.10,275.33 113.85,274.73 115.60,274.14 117.35,273.55 119.10,272.96 120.85,272.38 122.60,271.80 124.35,271.20 126.10,270.60 127.85,270.00 129.60,269.40 131.35,268.79 133.10,268.17 134.85,267.54 136.60,266.91 138.35,266.27 140.10,265.63 141.85,264.96 143.60,264.23 145.35,263.45 147.10,262.61 148.85,261.74 150.60,260.90 152.35,260.10 154.10,259.35 155.85,258.59 157.60,257.77 159.35,256.87 161.10,255.89 162.85,254.90 164.60,253.99 166.35,253.19 168.10,252.43 169.85,251.60 171.60,250.56 173.35,249.22 175.10,247.63 176.85,245.91 178.60,244.22 180.35,242.64 182.10,241.15 183.85,239.61 185.60,237.84 187.35,235.74 189.10,233.37 190.85,230.92 192.60,228.65" fill="none" stroke="#3f9be0" stroke-width="0.5" opacity="0.85" stroke-linejoin="round"/>
<polyline points="52.60,307.27 54.35,305.46 56.10,304.07 57.85,303.04 59.60,302.18 61.35,301.26 63.10,300.16 64.85,298.86 66.60,297.50 68.35,296.20 70.10,295.08 71.85,294.12 73.60,293.22 75.35,292.26 77.10,291.17 78.85,289.93 80.60,288.65 82.35,287.45 84.10,286.41 85.85,285.54 87.60,284.78 89.35,284.07 91.10,283.33 92.85,282.57 94.60,281.81 96.35,281.09 98.10,280.43 99.85,279.81 101.60,279.22 103.35,278.62 105.10,277.99 106.85,277.34 108.60,276.69 110.35,276.04 112.10,275.41 113.85,274.79 115.60,274.18 117.35,273.58 119.10,272.99 120.85,272.39 122.60,271.80 124.35,271.14 126.10,270.47 127.85,269.81 129.60,269.14 131.35,268.47 133.10,267.77 134.85,267.07 136.60,266.36 138.35,265.64 140.10,264.91 141.85,264.14 143.60,263.32 145.35,262.44 147.10,261.52 148.85,260.61 150.60,259.76 152.35,258.96 154.10,258.19 155.85,257.40 157.60,256.52 159.35,255.53 161.10,254.46 162.85,253.40 164.60,252.42 166.35,251.52 168.10,250.59 169.85,249.49 171.60,248.10 173.35,246.40 175.10,244.49 176.85,242.54 178.60,240.70 180.35,239.03 182.10,237.44 183.85,235.75 185.60,233.80 187.35,231.53 189.10,229.08 190.85,226.68 192.60,224.58" fill="none" stroke="#3f9be0" stroke-width="0.5" opacity="0.85" stroke-linejoin="round"/>
<polyline points="52.60,308.11 54.35,306.34 56.10,304.97 57.85,303.82 59.60,302.66 61.35,301.36 63.10,299.95 64.85,298.54 66.60,297.28 68.35,296.25 70.10,295.43 71.85,294.68 73.60,293.84 75.35,292.83 77.10,291.65 78.85,290.39 80.60,289.16 82.35,288.08 84.10,287.14 85.85,286.29 87.60,285.43 89.35,284.55 91.10,283.64 92.85,282.74 94.60,281.92 96.35,281.19 98.10,280.54 99.85,279.93 101.60,279.33 103.35,278.71 105.10,278.06 106.85,277.40 108.60,276.75 110.35,276.11 112.10,275.48 113.85,274.87 115.60,274.25 117.35,273.63 119.10,273.01 120.85,272.41 122.60,271.80 124.35,271.27 126.10,270.74 127.85,270.21 129.60,269.67 131.35,269.13 133.10,268.59 134.85,268.05 136.60,267.50 138.35,266.95 140.10,266.37 141.85,265.75 143.60,265.07 145.35,264.37 147.10,263.65 148.85,262.94 150.60,262.26 152.35,261.58 154.10,260.87 155.85,260.10 157.60,259.25 159.35,258.40 161.10,257.58 162.85,256.85 164.60,256.22 166.35,255.60 168.10,254.88 169.85,253.96 171.60,252.82 173.35,251.52 175.10,250.18 176.85,248.91 178.60,247.71 180.35,246.51 182.10,245.15 183.85,243.52 185.60,241.59 187.35,239.48 189.10,237.39 190.85,235.51 192.60,233.92" fill="none" stroke="#3f9be0" stroke-width="0.5" opacity="0.85" stroke-linejoin="round"/>
<polyline points="52.60,308.79 54.35,307.25 56.10,305.98 57.85,304.75 59.60,303.39 61.35,301.90 63.10,300.39 64.85,299.02 66.60,297.90 68.35,297.01 70.10,296.23 71.85,295.40 73.60,294.40 75.35,293.21 77.10,291.89 78.85,290.60 80.60,289.43 82.35,288.43 84.10,287.53 85.85,286.64 87.60,285.71 89.35,284.75 91.10,283.79 92.85,282.89 94.60,282.10 96.35,281.41 98.10,280.78 99.85,280.16 101.60,279.53 103.35,278.86 105.10,278.19 106.85,277.51 108.60,276.85 110.35,276.21 112.10,275.57 113.85,274.94 115.60,274.30 117.35,273.67 119.10,273.04 120.85,272.42 122.60,271.80 124.35,271.15 126.10,270.51 127.85,269.86 129.60,269.20 131.35,268.55 133.10,267.89 134.85,267.23 136.60,266.57 138.35,265.88 140.10,265.15 141.85,264.37 143.60,263.54 145.35,262.69 147.10,261.85 148.85,261.03 150.60,260.22 152.35,259.37 154.10,258.46 155.85,257.46 157.60,256.43 159.35,255.44 161.10,254.55 162.85,253.77 164.60,253.04 166.35,252.23 168.10,251.20 169.85,249.91 171.60,248.43 173.35,246.88 175.10,245.37 176.85,243.97 178.60,242.57 180.35,241.03 182.10,239.18 183.85,236.97 185.60,234.50 187.35,232.00 189.10,229.70 190.85,227.74 192.60,226.04" fill="none" stroke="#3f9be0" stroke-width="0.5" opacity="0.85" stroke-linejoin="round"/>
<polyline points="52.60,311.04 54.35,309.31 56.10,307.72 57.85,306.07 59.60,304.26 61.35,302.35 63.10,300.50 64.85,298.89 66.60,297.63 68.35,296.68 70.10,295.89 71.85,295.09 73.60,294.15 75.35,293.07 77.10,291.93 78.85,290.84 80.60,289.88 82.35,289.06 84.10,288.28 85.85,287.45 87.60,286.51 89.35,285.47 91.10,284.42 92.85,283.42 94.60,282.53 96.35,281.74 98.10,281.02 99.85,280.32 101.60,279.62 103.35,278.91 105.10,278.21 106.85,277.53 108.60,276.88 110.35,276.24 112.10,275.62 113.85,274.99 115.60,274.35 117.35,273.71 119.10,273.07 120.85,272.43 122.60,271.80 124.35,271.23 126.10,270.65 127.85,270.07 129.60,269.49 131.35,268.90 133.10,268.32 134.85,267.75 136.60,267.18 138.35,266.59 140.10,265.98 141.85,265.32 143.60,264.64 145.35,263.95 147.10,263.25 148.85,262.55 150.60,261.83 152.35,261.04 154.10,260.15 155.85,259.16 157.60,258.11 159.35,257.10 161.10,256.20 162.85,255.40 164.60,254.66 166.35,253.86 168.10,252.92 169.85,251.82 171.60,250.64 173.35,249.48 175.10,248.43 176.85,247.49 178.60,246.54 180.35,245.41 182.10,243.95 183.85,242.11 185.60,240.00 187.35,237.80 189.10,235.71 190.85,233.80 192.60,231.98" fill="none" stroke="#3f9be0" stroke-width="0.5" opacity="0.85" stroke-linejoin="round"/>
<polyline points="52.60,312.54 54.35,310.99 56.10,309.46 57.85,307.75 59.60,305.80 61.35,303.69 63.10,301.63 64.85,299.80 66.60,298.33 68.35,297.16 70.10,296.17 71.85,295.18 73.60,294.09 75.35,292.92 77.10,291.75 78.85,290.70 80.60,289.83 82.35,289.11 84.10,288.44 85.85,287.71 87.60,286.86 89.35,285.88 91.10,284.86 92.85,283.88 94.60,282.98 96.35,282.16 98.10,281.39 99.85,280.63 101.60,279.87 103.35,279.10 105.10,278.35 106.85,277.64 108.60,276.96 110.35,276.31 112.10,275.67 113.85,275.03 115.60,274.39 117.35,273.74 119.10,273.09 120.85,272.44 122.60,271.80 124.35,271.13 126.10,270.45 127.85,269.77 129.60,269.08 131.35,268.38 133.10,267.69 134.85,267.00 136.60,266.32 138.35,265.62 140.10,264.90 141.85,264.15 143.60,263.38 145.35,262.61 147.10,261.86 148.85,261.12 150.60,260.34 152.35,259.46 154.10,258.45 155.85,257.31 157.60,256.07 159.35,254.84 161.10,253.69 162.85,252.63 164.60,251.60 166.35,250.48 168.10,249.20 169.85,247.75 171.60,246.27 173.35,244.88 175.10,243.69 176.85,242.67 178.60,241.69 180.35,240.53 182.10,239.02 183.85,237.12 185.60,234.92 187.35,232.65 189.10,230.49 190.85,228.46 192.60,226.42" fill="none" stroke="#3f9be0" stroke-width="0.5" opacity="0.85" stroke-linejoin="round"/>
<polyline points="52.60,314.08 54.35,312.47 56.10,310.52 57.85,308.39 59.60,306.32 61.35,304.48 63.10,302.93 64.85,301.56 66.60,300.20 68.35,298.74 70.10,297.13 71.85,295.50 73.60,293.97 75.35,292.70 77.10,291.70 78.85,290.90 80.60,290.18 82.35,289.39 84.10,288.50 85.85,287.55 87.60,286.61 89.35,285.73 91.10,284.94 92.85,284.20 94.60,283.45 96.35,282.65 98.10,281.80 99.85,280.93 101.60,280.08 103.35,279.27 105.10,278.52 106.85,277.81 108.60,277.12 110.35,276.44 112.10,275.76 113.85,275.09 115.60,274.42 117.35,273.76 119.10,273.11 120.85,272.46 122.60,271.80 124.35,271.15 126.10,270.49 127.85,269.83 129.60,269.16 131.35,268.49 133.10,267.81 134.85,267.11 136.60,266.39 138.35,265.66 140.10,264.93 141.85,264.21 143.60,263.53 145.35,262.86 147.10,262.17 148.85,261.43 150.60,260.60 152.35,259.70 154.10,258.76 155.85,257.83 157.60,256.92 159.35,255.98 161.10,254.97 162.85,253.79 164.60,252.41 166.35,250.87 168.10,249.34 169.85,247.92 171.60,246.70 173.35,245.60 175.10,244.50 176.85,243.24 178.60,241.75 180.35,240.06 182.10,238.34 183.85,236.75 185.60,235.36 187.35,234.09 189.10,232.71 190.85,230.96 192.60,228.65" fill="none" stroke="#3f9be0" stroke-width="0.5" opacity="0.85" stroke-linejoin="round"/>
<polyline points="52.60,312.78 54.35,310.46 56.10,308.61 57.85,307.12 59.60,305.78 61.35,304.37 63.10,302.83 64.85,301.22 66.60,299.69 68.35,298.40 70.10,297.39 71.85,296.58 73.60,295.80 75.35,294.90 77.10,293.81 78.85,292.55 80.60,291.25 82.35,290.03 84.10,288.95 85.85,287.99 87.60,287.07 89.35,286.11 91.10,285.12 92.85,284.10 94.60,283.12 96.35,282.23 98.10,281.44 99.85,280.73 101.60,280.05 103.35,279.38 105.10,278.68 106.85,277.97 108.60,277.25 110.35,276.55 112.10,275.86 113.85,275.18 115.60,274.50 117.35,273.82 119.10,273.15 120.85,272.47 122.60,271.80 124.35,271.29 126.10,270.77 127.85,270.26 129.60,269.74 131.35,269.22 133.10,268.69 134.85,268.16 136.60,267.64 138.35,267.11 140.10,266.58 141.85,266.00 143.60,265.38 145.35,264.71 147.10,264.01 148.85,263.30 150.60,262.61 152.35,261.93 154.10,261.24 155.85,260.48 157.60,259.65 159.35,258.77 161.10,257.89 162.85,257.08 164.60,256.38 166.35,255.77 168.10,255.15 169.85,254.39 171.60,253.44 173.35,252.30 175.10,251.05 176.85,249.80 178.60,248.64 180.35,247.52 182.10,246.34 183.85,244.93 185.60,243.21 187.35,241.18 189.10,239.01 190.85,236.91 192.60,235.04" fill="none" stroke="#3f9be0" stroke-width="0.5" opacity="0.85" stroke-linejoin="round"/>
<polyline points="52.60,312.89 54.35,311.43 56.10,309.97 57.85,308.34 59.60,306.58 61.35,304.84 63.10,303.31 64.85,302.09 66.60,301.12 68.35,300.24 70.10,299.26 71.85,298.07 73.60,296.65 75.35,295.14 77.10,293.67 78.85,292.37 80.60,291.25 82.35,290.24 84.10,289.22 85.85,288.14 87.60,286.99 89.35,285.88 91.10,284.86 92.85,283.98 94.60,283.21 96.35,282.52 98.10,281.84 99.85,281.12 101.60,280.37 103.35,279.61 105.10,278.85 106.85,278.11 108.60,277.40 110.35,276.69 112.10,275.98 113.85,275.27 115.60,274.56 117.35,273.86 119.10,273.17 120.85,272.48 122.60,271.80 124.35,271.28 126.10,270.75 127.85,270.22 129.60,269.69 131.35,269.17 133.10,268.64 134.85,268.10 136.60,267.55 138.35,266.97 140.10,266.36 141.85,265.71 143.60,265.05 145.35,264.40 147.10,263.76 148.85,263.11 150.60,262.44 152.35,261.71 154.10,260.93 155.85,260.12 157.60,259.36 159.35,258.68 161.10,258.08 162.85,257.49 164.60,256.84 166.35,256.00 168.10,254.98 169.85,253.82 171.60,252.64 173.35,251.51 175.10,250.45 176.85,249.37 178.60,248.14 180.35,246.66 182.10,244.91 183.85,242.98 185.60,241.08 187.35,239.36 189.10,237.89 190.85,236.59 192.60,235.27" fill="none" stroke="#3f9be0" stroke-width="0.5" opacity="0.85" stroke-linejoin="round"/>
<polyline points="52.60,315.51 54.35,313.63 56.10,311.90 57.85,310.09 59.60,308.09 61.35,305.92 63.10,303.76 64.85,301.82 66.60,300.25 68.35,299.05 70.10,298.08 71.85,297.15 73.60,296.13 75.35,294.97 77.10,293.74 78.85,292.56 80.60,291.53 82.35,290.67 84.10,289.88 85.85,289.05 87.60,288.10 89.35,287.02 91.10,285.88 92.85,284.78 94.60,283.77 96.35,282.87 98.10,282.04 99.85,281.25 101.60,280.46 103.35,279.66 105.10,278.87 106.85,278.11 108.60,277.38 110.35,276.68 112.10,275.99 113.85,275.30 115.60,274.60 117.35,273.90 119.10,273.20 120.85,272.50 122.60,271.80 124.35,271.44 126.10,271.09 127.85,270.72 129.60,270.36 131.35,269.99 133.10,269.63 134.85,269.26 136.60,268.91 138.35,268.54 140.10,268.17 141.85,267.77 143.60,267.35 145.35,266.93 147.10,266.51 148.85,266.09 150.60,265.66 152.35,265.19 154.10,264.65 155.85,264.03 157.60,263.37 159.35,262.71 161.10,262.10 162.85,261.55 164.60,261.05 166.35,260.52 168.10,259.92 169.85,259.22 171.60,258.47 173.35,257.73 175.10,257.07 176.85,256.49 178.60,255.95 180.35,255.33 182.10,254.52 183.85,253.48 185.60,252.24 187.35,250.92 189.10,249.64 190.85,248.44 192.60,247.30" fill="none" stroke="#3f9be0" stroke-width="0.5" opacity="0.85" stroke-linejoin="round"/>
<polyline points="52.60,314.51 54.35,313.33 56.10,312.11 57.85,310.65 59.60,308.95 61.35,307.15 63.10,305.44 64.85,303.98 66.60,302.74 68.35,301.60 70.10,300.39 71.85,298.97 73.60,297.35 75.35,295.64 77.10,294.00 78.85,292.58 80.60,291.40 82.35,290.39 84.10,289.44 85.85,288.45 87.60,287.41 89.35,286.39 91.10,285.43 92.85,284.58 94.60,283.82 96.35,283.12 98.10,282.41 99.85,281.65 101.60,280.84 103.35,280.01 105.10,279.18 106.85,278.38 108.60,277.61 110.35,276.86 112.10,276.12 113.85,275.39 115.60,274.65 117.35,273.93 119.10,273.22 120.85,272.51 122.60,271.80 124.35,271.26 126.10,270.73 127.85,270.19 129.60,269.65 131.35,269.10 133.10,268.55 134.85,267.99 136.60,267.41 138.35,266.81 140.10,266.17 141.85,265.50 143.60,264.83 145.35,264.18 147.10,263.56 148.85,262.95 150.60,262.33 152.35,261.67 154.10,260.94 155.85,260.18 157.60,259.43 159.35,258.72 161.10,258.06 162.85,257.39 164.60,256.64 166.35,255.68 168.10,254.52 169.85,253.19 171.60,251.82 173.35,250.52 175.10,249.32 176.85,248.17 178.60,246.96 180.35,245.55 182.10,243.93 183.85,242.15 185.60,240.41 187.35,238.86 189.10,237.57 190.85,236.47 192.60,235.35" fill="none" stroke="#3f9be0" stroke-width="0.5" opacity="0.85" stroke-linejoin="round"/>
<polyline points="52.60,316.71 54.35,315.39 56.10,314.11 57.85,312.61 59.60,310.77 61.35,308.64 63.10,306.42 64.85,304.35 66.60,302.57 68.35,301.08 70.10,299.74 71.85,298.39 73.60,296.94 75.35,295.40 77.10,293.87 78.85,292.50 80.60,291.39 82.35,290.52 84.10,289.78 85.85,289.03 87.60,288.19 89.35,287.26 91.10,286.27 92.85,285.30 94.60,284.39 96.35,283.54 98.10,282.72 99.85,281.89 101.60,281.03 103.35,280.15 105.10,279.27 106.85,278.43 108.60,277.63 110.35,276.88 112.10,276.14 113.85,275.41 115.60,274.69 117.35,273.96 119.10,273.24 120.85,272.52 122.60,271.80 124.35,271.22 126.10,270.64 127.85,270.06 129.60,269.46 131.35,268.86 133.10,268.25 134.85,267.64 136.60,267.03 138.35,266.41 140.10,265.76 141.85,265.09 143.60,264.41 145.35,263.74 147.10,263.11 148.85,262.50 150.60,261.90 152.35,261.25 154.10,260.50 155.85,259.64 157.60,258.69 159.35,257.69 161.10,256.73 162.85,255.81 164.60,254.87 166.35,253.82 168.10,252.59 169.85,251.17 171.60,249.67 173.35,248.23 175.10,246.97 176.85,245.89 178.60,244.92 180.35,243.89 182.10,242.64 183.85,241.13 185.60,239.44 187.35,237.74 189.10,236.17 190.85,234.77 192.60,233.40" fill="none" stroke="#3f9be0" stroke-width="0.5" opacity="0.85" stroke-linejoin="round"/>
<polyline points="52.60,318.09 54.35,316.18 56.10,314.36 57.85,312.40 59.60,310.20 61.35,307.84 63.10,305.54 64.85,303.51 66.60,301.89 68.35,300.64 70.10,299.60 71.85,298.56 73.60,297.42 75.35,296.14 77.10,294.83 78.85,293.62 80.60,292.58 82.35,291.72 84.10,290.91 85.85,290.03 87.60,289.01 89.35,287.86 91.10,286.66 92.85,285.52 94.60,284.47 96.35,283.53 98.10,282.65 99.85,281.80 101.60,280.95 103.35,280.10 105.10,279.26 106.85,278.46 108.60,277.69 110.35,276.95 112.10,276.22 113.85,275.49 115.60,274.76 117.35,274.01 119.10,273.27 120.85,272.53 122.60,271.80 124.35,271.47 126.10,271.13 127.85,270.79 129.60,270.45 131.35,270.10 133.10,269.76 134.85,269.42 136.60,269.08 138.35,268.74 140.10,268.38 141.85,268.01 143.60,267.62 145.35,267.23 147.10,266.84 148.85,266.46 150.60,266.06 152.35,265.61 154.10,265.10 155.85,264.52 157.60,263.90 159.35,263.28 161.10,262.72 162.85,262.21 164.60,261.73 166.35,261.21 168.10,260.61 169.85,259.94 171.60,259.22 173.35,258.54 175.10,257.95 176.85,257.44 178.60,256.94 180.35,256.34 182.10,255.56 183.85,254.57 185.60,253.43 187.35,252.23 189.10,251.07 190.85,250.00 192.60,248.94" fill="none" stroke="#3f9be0" stroke-width="0.5" opacity="0.85" stroke-linejoin="round"/>
<polyline points="52.60,319.98 54.35,317.78 56.10,315.37 57.85,313.04 59.60,310.98 61.35,309.23 63.10,307.66 64.85,306.07 66.60,304.30 68.35,302.35 70.10,300.35 71.85,298.49 73.60,296.92 75.35,295.68 77.10,294.68 78.85,293.78 80.60,292.83 82.35,291.75 84.10,290.61 85.85,289.52 87.60,288.53 89.35,287.66 91.10,286.85 92.85,286.02 94.60,285.12 96.35,284.15 98.10,283.13 99.85,282.13 101.60,281.18 103.35,280.30 105.10,279.48 106.85,278.67 108.60,277.88 110.35,277.09 112.10,276.30 113.85,275.53 115.60,274.78 117.35,274.03 119.10,273.29 120.85,272.55 122.60,271.80 124.35,271.21 126.10,270.62 127.85,270.02 129.60,269.42 131.35,268.82 133.10,268.19 134.85,267.56 136.60,266.91 138.35,266.25 140.10,265.61 141.85,264.99 143.60,264.38 145.35,263.76 147.10,263.10 148.85,262.39 150.60,261.62 152.35,260.83 154.10,260.05 155.85,259.30 157.60,258.53 159.35,257.66 161.10,256.65 162.85,255.46 164.60,254.13 166.35,252.78 168.10,251.53 169.85,250.42 171.60,249.42 173.35,248.39 175.10,247.23 176.85,245.86 178.60,244.36 180.35,242.85 182.10,241.48 183.85,240.32 185.60,239.27 187.35,238.15 189.10,236.70 190.85,234.80 192.60,232.47" fill="none" stroke="#3f9be0" stroke-width="0.5" opacity="0.85" stroke-linejoin="round"/>
<polyline points="52.60,320.29 54.35,318.70 56.10,316.72 57.85,314.42 59.60,312.03 61.35,309.82 63.10,307.92 64.85,306.29 66.60,304.77 68.35,303.18 70.10,301.43 71.85,299.56 73.60,297.72 75.35,296.09 77.10,294.77 78.85,293.73 80.60,292.87 82.35,292.00 84.10,291.04 85.85,289.98 87.60,288.90 89.35,287.87 91.10,286.92 92.85,286.06 94.60,285.22 96.35,284.34 98.10,283.41 99.85,282.43 101.60,281.44 103.35,280.50 105.10,279.61 106.85,278.77 108.60,277.97 110.35,277.18 112.10,276.39 113.85,275.61 115.60,274.84 117.35,274.07 119.10,273.32 120.85,272.56 122.60,271.80 124.35,271.19 126.10,270.57 127.85,269.95 129.60,269.32 131.35,268.69 133.10,268.06 134.85,267.41 136.60,266.74 138.35,266.04 140.10,265.34 141.85,264.65 143.60,263.99 145.35,263.35 147.10,262.72 148.85,262.05 150.60,261.31 152.35,260.49 154.10,259.61 155.85,258.72 157.60,257.86 159.35,256.99 161.10,256.09 162.85,255.06 164.60,253.83 166.35,252.42 168.10,250.92 169.85,249.48 171.60,248.19 173.35,247.07 175.10,246.02 176.85,244.89 178.60,243.56 180.35,242.01 182.10,240.34 183.85,238.73 185.60,237.30 187.35,236.06 189.10,234.85 190.85,233.41 192.60,231.52" fill="none" stroke="#3f9be0" stroke-width="0.5" opacity="0.85" stroke-linejoin="round"/>
<polyline points="52.60,318.87 54.35,317.59 56.10,316.14 57.85,314.39 59.60,312.41 61.35,310.41 63.10,308.60 64.85,307.07 66.60,305.75 68.35,304.45 70.10,302.99 71.85,301.29 73.60,299.41 75.35,297.52 77.10,295.80 78.85,294.35 80.60,293.16 82.35,292.11 84.10,291.06 85.85,289.95 87.60,288.80 89.35,287.70 91.10,286.70 92.85,285.82 94.60,285.02 96.35,284.25 98.10,283.45 99.85,282.59 101.60,281.68 103.35,280.75 105.10,279.85 106.85,278.98 108.60,278.14 110.35,277.33 112.10,276.52 113.85,275.71 115.60,274.91 117.35,274.12 119.10,273.34 120.85,272.57 122.60,271.80 124.35,271.14 126.10,270.48 127.85,269.82 129.60,269.15 131.35,268.48 133.10,267.80 134.85,267.11 136.60,266.39 138.35,265.64 140.10,264.85 141.85,264.05 143.60,263.24 145.35,262.47 147.10,261.73 148.85,261.00 150.60,260.23 152.35,259.39 154.10,258.49 155.85,257.57 157.60,256.68 159.35,255.84 161.10,255.03 162.85,254.18 164.60,253.16 166.35,251.87 168.10,250.35 169.85,248.70 171.60,247.07 173.35,245.55 175.10,244.15 176.85,242.77 178.60,241.23 180.35,239.44 182.10,237.40 183.85,235.28 185.60,233.29 187.35,231.60 189.10,230.19 190.85,228.91 192.60,227.44" fill="none" stroke="#3f9be0" stroke-width="0.5" opacity="0.85" stroke-linejoin="round"/>
<polyline points="52.60,320.62 54.35,318.43 56.10,316.04 57.85,313.51 59.60,311.07 61.35,308.95 63.10,307.31 64.85,306.07 66.60,305.06 68.35,304.01 70.10,302.77 71.85,301.32 73.60,299.77 75.35,298.28 77.10,296.97 78.85,295.84 80.60,294.79 82.35,293.69 84.10,292.43 85.85,291.04 87.60,289.61 89.35,288.25 91.10,287.05 92.85,286.02 94.60,285.10 96.35,284.21 98.10,283.32 99.85,282.41 101.60,281.50 103.35,280.62 105.10,279.79 106.85,278.99 108.60,278.20 110.35,277.41 112.10,276.61 113.85,275.79 115.60,274.98 117.35,274.17 119.10,273.38 120.85,272.59 122.60,271.80 124.35,271.18 126.10,270.55 127.85,269.92 129.60,269.29 131.35,268.67 133.10,268.04 134.85,267.41 136.60,266.76 138.35,266.08 140.10,265.37 141.85,264.65 143.60,263.92 145.35,263.19 147.10,262.44 148.85,261.63 150.60,260.74 152.35,259.76 154.10,258.73 155.85,257.72 157.60,256.79 159.35,255.98 161.10,255.23 162.85,254.43 164.60,253.51 166.35,252.41 168.10,251.22 169.85,250.04 171.60,248.97 173.35,247.99 175.10,246.99 176.85,245.82 178.60,244.32 180.35,242.45 182.10,240.31 183.85,238.10 185.60,236.00 187.35,234.09 189.10,232.30 190.85,230.42 192.60,228.25" fill="none" stroke="#3f9be0" stroke-width="0.5" opacity="0.85" stroke-linejoin="round"/>
<polyline points="52.60,321.39 54.35,319.11 56.10,316.88 57.85,314.93 59.60,313.36 61.35,312.04 63.10,310.76 64.85,309.28 66.60,307.47 68.35,305.41 70.10,303.29 71.85,301.31 73.60,299.62 75.35,298.19 77.10,296.91 78.85,295.63 80.60,294.25 82.35,292.80 84.10,291.38 85.85,290.13 87.60,289.08 89.35,288.23 91.10,287.44 92.85,286.64 94.60,285.76 96.35,284.80 98.10,283.81 99.85,282.83 101.60,281.90 103.35,281.01 105.10,280.15 106.85,279.28 108.60,278.40 110.35,277.52 112.10,276.66 113.85,275.81 115.60,275.00 117.35,274.19 119.10,273.40 120.85,272.60 122.60,271.80 124.35,271.16 126.10,270.52 127.85,269.88 129.60,269.23 131.35,268.57 133.10,267.90 134.85,267.20 136.60,266.48 138.35,265.75 140.10,265.02 141.85,264.31 143.60,263.59 145.35,262.84 147.10,262.06 148.85,261.23 150.60,260.39 152.35,259.59 154.10,258.85 155.85,258.16 157.60,257.46 159.35,256.64 161.10,255.64 162.85,254.45 164.60,253.12 166.35,251.79 168.10,250.54 169.85,249.35 171.60,248.13 173.35,246.76 175.10,245.13 176.85,243.27 178.60,241.31 180.35,239.45 182.10,237.83 183.85,236.47 185.60,235.24 187.35,233.92 189.10,232.29 190.85,230.29 192.60,228.04" fill="none" stroke="#3f9be0" stroke-width="0.5" opacity="0.85" stroke-linejoin="round"/>
<polyline points="52.60,320.33 54.35,318.84 56.10,317.54 57.85,316.11 59.60,314.39 61.35,312.43 63.10,310.43 64.85,308.59 66.60,307.04 68.35,305.70 70.10,304.42 71.85,302.99 73.60,301.32 75.35,299.46 77.10,297.56 78.85,295.80 80.60,294.29 82.35,293.05 84.10,291.95 85.85,290.87 87.60,289.74 89.35,288.60 91.10,287.47 92.85,286.43 94.60,285.50 96.35,284.66 98.10,283.86 99.85,283.03 101.60,282.15 103.35,281.23 105.10,280.28 106.85,279.36 108.60,278.46 110.35,277.60 112.10,276.75 113.85,275.91 115.60,275.07 117.35,274.24 119.10,273.42 120.85,272.61 122.60,271.80 124.35,271.24 126.10,270.68 127.85,270.12 129.60,269.55 131.35,268.98 133.10,268.40 134.85,267.82 136.60,267.23 138.35,266.61 140.10,265.95 141.85,265.26 143.60,264.55 145.35,263.84 147.10,263.15 148.85,262.51 150.60,261.87 152.35,261.20 154.10,260.48 155.85,259.69 157.60,258.87 159.35,258.07 161.10,257.33 162.85,256.64 164.60,255.91 166.35,255.04 168.10,253.94 169.85,252.62 171.60,251.16 173.35,249.69 175.10,248.33 176.85,247.07 178.60,245.83 180.35,244.48 182.10,242.89 183.85,241.08 185.60,239.17 187.35,237.34 189.10,235.77 190.85,234.47 192.60,233.31" fill="none" stroke="#3f9be0" stroke-width="0.5" opacity="0.85" stroke-linejoin="round"/>
<polyline points="52.60,325.40 54.35,322.59 56.10,319.57 57.85,316.67 59.60,314.14 61.35,312.05 63.10,310.28 64.85,308.58 66.60,306.79 68.35,304.85 70.10,302.88 71.85,301.06 73.60,299.55 75.35,298.38 77.10,297.46 78.85,296.59 80.60,295.62 82.35,294.45 84.10,293.16 85.85,291.87 87.60,290.66 89.35,289.54 91.10,288.50 92.85,287.47 94.60,286.40 96.35,285.27 98.10,284.13 99.85,283.02 101.60,281.99 103.35,281.05 105.10,280.17 106.85,279.32 108.60,278.47 110.35,277.62 112.10,276.77 113.85,275.93 115.60,275.10 117.35,274.27 119.10,273.45 120.85,272.63 122.60,271.80 124.35,271.17 126.10,270.53 127.85,269.89 129.60,269.25 131.35,268.61 133.10,267.96 134.85,267.29 136.60,266.61 138.35,265.94 140.10,265.27 141.85,264.62 143.60,263.98 145.35,263.31 147.10,262.59 148.85,261.78 150.60,260.89 152.35,259.96 154.10,259.03 155.85,258.12 157.60,257.21 159.35,256.24 161.10,255.15 162.85,253.92 164.60,252.57 166.35,251.23 168.10,250.03 169.85,249.01 171.60,248.11 173.35,247.21 175.10,246.14 176.85,244.82 178.60,243.29 180.35,241.68 182.10,240.13 183.85,238.73 185.60,237.39 187.35,235.93 189.10,234.10 190.85,231.77 192.60,228.97" fill="none" stroke="#3f9be0" stroke-width="0.5" opacity="0.85" stroke-linejoin="round"/>
<polyline points="52.60,322.45 54.35,319.64 56.10,317.35 57.85,315.63 59.60,314.32 61.35,313.14 63.10,311.80 64.85,310.18 66.60,308.33 68.35,306.45 70.10,304.71 71.85,303.23 73.60,301.93 75.35,300.67 77.10,299.28 78.85,297.69 80.60,295.94 82.35,294.19 84.10,292.61 85.85,291.26 87.60,290.11 89.35,289.10 91.10,288.11 92.85,287.08 94.60,286.02 96.35,284.98 98.10,284.00 99.85,283.09 101.60,282.24 103.35,281.40 105.10,280.54 106.85,279.65 108.60,278.73 110.35,277.81 112.10,276.91 113.85,276.04 115.60,275.18 117.35,274.33 119.10,273.48 120.85,272.64 122.60,271.80 124.35,271.26 126.10,270.72 127.85,270.18 129.60,269.63 131.35,269.08 133.10,268.52 134.85,267.95 136.60,267.36 138.35,266.77 140.10,266.18 141.85,265.56 143.60,264.91 145.35,264.20 147.10,263.45 148.85,262.69 150.60,261.94 152.35,261.25 154.10,260.61 155.85,259.98 157.60,259.31 159.35,258.55 161.10,257.70 162.85,256.79 164.60,255.91 166.35,255.12 168.10,254.37 169.85,253.55 171.60,252.55 173.35,251.29 175.10,249.78 176.85,248.14 178.60,246.51 180.35,245.02 182.10,243.65 183.85,242.31 185.60,240.85 187.35,239.13 189.10,237.17 190.85,235.11 192.60,233.17" fill="none" stroke="#3f9be0" stroke-width="0.5" opacity="0.85" stroke-linejoin="round"/>
<polyline points="52.60,323.53 54.35,320.61 56.10,318.09 57.85,316.14 59.60,314.70 61.35,313.51 63.10,312.27 64.85,310.79 66.60,309.02 68.35,307.11 70.10,305.27 71.85,303.65 73.60,302.26 75.35,300.98 77.10,299.65 78.85,298.15 80.60,296.46 82.35,294.69 84.10,293.03 85.85,291.58 87.60,290.35 89.35,289.31 91.10,288.32 92.85,287.32 94.60,286.27 96.35,285.22 98.10,284.21 99.85,283.26 101.60,282.37 103.35,281.52 105.10,280.65 106.85,279.76 108.60,278.84 110.35,277.91 112.10,277.00 113.85,276.10 115.60,275.23 117.35,274.36 119.10,273.51 120.85,272.65 122.60,271.80 124.35,271.19 126.10,270.59 127.85,269.98 129.60,269.38 131.35,268.77 133.10,268.14 134.85,267.50 136.60,266.84 138.35,266.17 140.10,265.51 141.85,264.82 143.60,264.10 145.35,263.33 147.10,262.50 148.85,261.63 150.60,260.77 152.35,259.96 154.10,259.22 155.85,258.53 157.60,257.81 159.35,257.01 161.10,256.08 162.85,255.06 164.60,254.03 166.35,253.07 168.10,252.19 169.85,251.30 171.60,250.26 173.35,248.95 175.10,247.34 176.85,245.51 178.60,243.61 180.35,241.83 182.10,240.21 183.85,238.70 185.60,237.13 187.35,235.34 189.10,233.24 190.85,230.94 192.60,228.65" fill="none" stroke="#3f9be0" stroke-width="0.5" opacity="0.85" stroke-linejoin="round"/>
<line x1="52.60" y1="272.34" x2="192.60" y2="271.26" stroke="#f08080" stroke-width="0.6" opacity="0.75"/><line x1="52.60" y1="272.88" x2="192.60" y2="270.83" stroke="#f08080" stroke-width="0.6" opacity="0.75"/><line x1="52.60" y1="273.31" x2="192.60" y2="270.40" stroke="#f08080" stroke-width="0.6" opacity="0.75"/><line x1="52.60" y1="272.61" x2="192.60" y2="270.07" stroke="#f08080" stroke-width="0.6" opacity="0.75"/>
<line x1="38.6" y1="204.4" x2="38.6" y2="339.2" stroke="#555" stroke-width="1.1"/>
<line x1="206.6" y1="204.4" x2="206.6" y2="339.2" stroke="#555" stroke-width="1.1"/>
<line x1="37.4" y1="204.4" x2="207.1" y2="204.4" stroke="#222" stroke-width="1"/>
<line x1="38.1" y1="339.2" x2="207.1" y2="339.2" stroke="#222" stroke-width="1.1"/>
<line x1="36.0" y1="217.88000000000002" x2="38.6" y2="217.88000000000002" stroke="#222" stroke-width="0.8"/>
<text x="34.6" y="220.28000000000003" font-size="6.8" text-anchor="end" font-family="'Liberation Sans', sans-serif" fill="#222">1000</text>
<line x1="36.0" y1="244.84" x2="38.6" y2="244.84" stroke="#222" stroke-width="0.8"/>
<text x="34.6" y="247.24" font-size="6.8" text-anchor="end" font-family="'Liberation Sans', sans-serif" fill="#222">500</text>
<line x1="36.0" y1="271.8" x2="38.6" y2="271.8" stroke="#222" stroke-width="0.8"/>
<text x="34.6" y="274.2" font-size="6.8" text-anchor="end" font-family="'Liberation Sans', sans-serif" fill="#222">0</text>
<line x1="36.0" y1="298.76" x2="38.6" y2="298.76" stroke="#222" stroke-width="0.8"/>
<text x="34.6" y="301.15999999999997" font-size="6.8" text-anchor="end" font-family="'Liberation Sans', sans-serif" fill="#222">-500</text>
<line x1="36.0" y1="325.72" x2="38.6" y2="325.72" stroke="#222" stroke-width="0.8"/>
<text x="34.6" y="328.12" font-size="6.8" text-anchor="end" font-family="'Liberation Sans', sans-serif" fill="#222">-1000</text>
<line x1="37.1" y1="231.36" x2="38.6" y2="231.36" stroke="#222" stroke-width="0.8"/>
<line x1="37.1" y1="258.32" x2="38.6" y2="258.32" stroke="#222" stroke-width="0.8"/>
<line x1="37.1" y1="285.28000000000003" x2="38.6" y2="285.28000000000003" stroke="#222" stroke-width="0.8"/>
<line x1="37.1" y1="312.24" x2="38.6" y2="312.24" stroke="#222" stroke-width="0.8"/>
<line x1="38.6" y1="339.2" x2="38.6" y2="342.0" stroke="#222" stroke-width="0.8"/>
<text x="38.6" y="349.5" font-size="6.8" text-anchor="middle" font-family="'Liberation Sans', sans-serif" fill="#222">-6</text>
<line x1="52.6" y1="339.2" x2="52.6" y2="340.8" stroke="#222" stroke-width="0.8"/>
<line x1="66.6" y1="339.2" x2="66.6" y2="342.0" stroke="#222" stroke-width="0.8"/>
<text x="66.6" y="349.5" font-size="6.8" text-anchor="middle" font-family="'Liberation Sans', sans-serif" fill="#222">-4</text>
<line x1="80.6" y1="339.2" x2="80.6" y2="340.8" stroke="#222" stroke-width="0.8"/>
<line x1="94.6" y1="339.2" x2="94.6" y2="342.0" stroke="#222" stroke-width="0.8"/>
<text x="94.6" y="349.5" font-size="6.8" text-anchor="middle" font-family="'Liberation Sans', sans-serif" fill="#222">-2</text>
<line x1="108.6" y1="339.2" x2="108.6" y2="340.8" stroke="#222" stroke-width="0.8"/>
<line x1="122.6" y1="339.2" x2="122.6" y2="342.0" stroke="#222" stroke-width="0.8"/>
<text x="122.6" y="349.5" font-size="6.8" text-anchor="middle" font-family="'Liberation Sans', sans-serif" fill="#222">0</text>
<line x1="136.6" y1="339.2" x2="136.6" y2="340.8" stroke="#222" stroke-width="0.8"/>
<line x1="150.6" y1="339.2" x2="150.6" y2="342.0" stroke="#222" stroke-width="0.8"/>
<text x="150.6" y="349.5" font-size="6.8" text-anchor="middle" font-family="'Liberation Sans', sans-serif" fill="#222">2</text>
<line x1="164.6" y1="339.2" x2="164.6" y2="340.8" stroke="#222" stroke-width="0.8"/>
<line x1="178.6" y1="339.2" x2="178.6" y2="342.0" stroke="#222" stroke-width="0.8"/>
<text x="178.6" y="349.5" font-size="6.8" text-anchor="middle" font-family="'Liberation Sans', sans-serif" fill="#222">4</text>
<line x1="192.6" y1="339.2" x2="192.6" y2="340.8" stroke="#222" stroke-width="0.8"/>
<line x1="206.6" y1="339.2" x2="206.6" y2="342.0" stroke="#222" stroke-width="0.8"/>
<text x="206.6" y="349.5" font-size="6.8" text-anchor="middle" font-family="'Liberation Sans', sans-serif" fill="#222">6</text>
<text x="122.6" y="362.3" font-size="8.4" text-anchor="middle" font-family="'Liberation Sans', sans-serif" fill="#222">Bias (V)</text>
<text transform="translate(13.200000000000003,271.8) rotate(-90)" x="0" y="0" font-size="8.35" text-anchor="middle" font-family="'Liberation Sans', sans-serif" fill="#222">Current (nA)</text>
<text x="-1.5" y="189.8" font-size="15.5" font-weight="bold" font-family="'Liberation Sans', sans-serif" fill="#000">b</text>
<text x="100.1" y="298.8" font-size="15.15" font-family="'Liberation Sans', sans-serif" fill="#111">91.6% ± 0.3%</text>
<text x="74.4" y="324.3" font-size="15.0" font-family="'Liberation Sans', sans-serif" fill="#111">(S)-Ph</text>
<line x1="143.8" y1="314.8" x2="157.5" y2="314.8" stroke="#8cc3ec" stroke-width="0.8"/>
<line x1="143.8" y1="324.8" x2="157.5" y2="324.8" stroke="#f5b8b8" stroke-width="0.8"/>
<text x="161.3" y="317.3" font-size="7" font-family="'Liberation Sans', sans-serif" fill="#333">Mag Up</text>
<text x="161.3" y="327.3" font-size="7" font-family="'Liberation Sans', sans-serif" fill="#333">Mag Down</text>
<path d="M87.60,235.40 C86.00,234.87 86.90,233.45 86.20,232.20 C85.50,230.95 84.15,229.53 83.40,227.90 C82.65,226.27 81.68,224.22 81.70,222.40 C81.72,220.58 82.37,218.18 83.50,217.00 C84.63,215.82 86.75,215.23 88.50,215.30 C90.25,215.37 92.73,216.00 94.00,217.40 C95.27,218.80 95.72,221.50 96.10,223.70 C96.48,225.90 96.35,228.65 96.30,230.60 C96.25,232.55 97.25,234.60 95.80,235.40 C94.35,236.20 89.20,235.93 87.60,235.40 Z" fill="url(#pbb0)" stroke="#a84e3e" stroke-width="0.6"/>
<path d="M84.30,242.40 C83.35,241.57 81.90,242.62 80.70,243.10 C79.50,243.58 78.17,244.33 77.10,245.30 C76.03,246.27 74.95,247.72 74.30,248.90 C73.65,250.08 73.27,251.10 73.20,252.40 C73.13,253.70 73.37,255.62 73.90,256.70 C74.43,257.78 75.62,258.67 76.40,258.90 C77.18,259.13 77.77,258.82 78.60,258.10 C79.43,257.38 80.45,255.78 81.40,254.60 C82.35,253.42 83.47,252.08 84.30,251.00 C85.13,249.92 86.40,249.53 86.40,248.10 C86.40,246.67 85.25,243.23 84.30,242.40 Z" fill="url(#pbb1)" stroke="#a84e3e" stroke-width="0.6"/>
<path d="M97.50,244.30 C98.63,243.62 102.25,243.58 104.30,243.70 C106.35,243.82 108.18,244.20 109.80,245.00 C111.42,245.80 113.08,247.23 114.00,248.50 C114.92,249.77 115.53,251.47 115.30,252.60 C115.07,253.73 113.97,255.07 112.60,255.30 C111.23,255.53 108.93,254.92 107.10,254.00 C105.27,253.08 103.20,250.83 101.60,249.80 C100.00,248.77 98.18,248.72 97.50,247.80 C96.82,246.88 96.37,244.98 97.50,244.30 Z" fill="url(#pbb2)" stroke="#a84e3e" stroke-width="0.6"/>
<ellipse cx="92.45" cy="241.5" rx="7.65" ry="6.3" fill="#fbe2da"/>
<circle cx="90.6" cy="241.5" r="6.3" fill="url(#pbh)" stroke="#a84e3e" stroke-width="0.3"/>
<polyline points="288.21,290.63 289.96,289.91 291.71,289.22 293.46,288.47 295.21,287.62 296.96,286.69 298.71,285.74 300.47,284.86 302.22,284.09 303.97,283.43 305.72,282.83 307.47,282.24 309.22,281.63 310.97,280.99 312.72,280.38 314.47,279.82 316.23,279.35 317.98,278.97 319.73,278.63 321.48,278.30 323.23,277.95 324.98,277.57 326.73,277.18 328.48,276.81 330.23,276.45 331.98,276.12 333.74,275.80 335.49,275.49 337.24,275.16 338.99,274.84 340.74,274.52 342.49,274.21 344.24,273.92 345.99,273.64 347.74,273.37 349.49,273.10 351.25,272.84 353.00,272.58 354.75,272.32 356.50,272.06 358.25,271.80 360.00,271.51 361.75,271.22 363.50,270.92 365.25,270.62 367.01,270.31 368.76,270.00 370.51,269.68 372.26,269.35 374.01,269.01 375.76,268.65 377.51,268.27 379.26,267.88 381.01,267.48 382.76,267.09 384.52,266.69 386.27,266.29 388.02,265.85 389.77,265.34 391.52,264.76 393.27,264.12 395.02,263.43 396.77,262.74 398.52,262.04 400.27,261.30 402.03,260.47 403.78,259.52 405.53,258.42 407.28,257.24 409.03,256.05 410.78,254.91 412.53,253.83 414.28,252.77 416.03,251.62 417.79,250.29 419.54,248.75 421.29,247.03 423.04,245.23 424.79,243.44 426.54,241.69 428.29,239.88" fill="none" stroke="#f08080" stroke-width="0.5" opacity="0.9" stroke-linejoin="round"/>
<polyline points="288.21,292.51 289.96,291.52 291.71,290.58 293.46,289.61 295.21,288.56 296.96,287.48 298.71,286.44 300.47,285.51 302.22,284.74 303.97,284.12 305.72,283.58 307.47,283.06 309.22,282.51 310.97,281.92 312.72,281.33 314.47,280.79 316.23,280.31 317.98,279.90 319.73,279.51 321.48,279.11 323.23,278.67 324.98,278.19 326.73,277.71 328.48,277.24 330.23,276.82 331.98,276.43 333.74,276.07 335.49,275.73 337.24,275.38 338.99,275.04 340.74,274.71 342.49,274.39 344.24,274.09 345.99,273.80 347.74,273.51 349.49,273.23 351.25,272.94 353.00,272.65 354.75,272.37 356.50,272.08 358.25,271.80 360.00,271.46 361.75,271.11 363.50,270.76 365.25,270.40 367.01,270.04 368.76,269.68 370.51,269.31 372.26,268.93 374.01,268.55 375.76,268.14 377.51,267.71 379.26,267.25 381.01,266.78 382.76,266.29 384.52,265.79 386.27,265.26 388.02,264.67 389.77,264.00 391.52,263.23 393.27,262.40 395.02,261.54 396.77,260.71 398.52,259.90 400.27,259.08 402.03,258.20 403.78,257.19 405.53,256.05 407.28,254.83 409.03,253.60 410.78,252.42 412.53,251.28 414.28,250.11 416.03,248.78 417.79,247.16 419.54,245.20 421.29,242.95 423.04,240.54 424.79,238.09 426.54,235.65 428.29,233.14" fill="none" stroke="#f08080" stroke-width="0.5" opacity="0.9" stroke-linejoin="round"/>
<polyline points="288.21,294.57 289.96,293.40 291.71,292.16 293.46,290.98 295.21,289.93 296.96,289.01 298.71,288.18 300.47,287.35 302.22,286.48 303.97,285.55 305.72,284.61 307.47,283.75 309.22,283.00 310.97,282.39 312.72,281.88 314.47,281.42 316.23,280.94 317.98,280.42 319.73,279.90 321.48,279.39 323.23,278.94 324.98,278.53 326.73,278.15 328.48,277.76 330.23,277.36 331.98,276.94 333.74,276.51 335.49,276.09 337.24,275.69 338.99,275.32 340.74,274.97 342.49,274.63 344.24,274.30 345.99,273.97 347.74,273.65 349.49,273.33 351.25,273.02 353.00,272.71 354.75,272.41 356.50,272.10 358.25,271.80 360.00,271.30 361.75,270.81 363.50,270.30 365.25,269.79 367.01,269.27 368.76,268.73 370.51,268.17 372.26,267.59 374.01,266.99 375.76,266.40 377.51,265.80 379.26,265.19 381.01,264.56 382.76,263.88 384.52,263.14 386.27,262.32 388.02,261.47 389.77,260.59 391.52,259.70 393.27,258.77 395.02,257.72 396.77,256.51 398.52,255.10 400.27,253.52 402.03,251.86 403.78,250.23 405.53,248.66 407.28,247.12 409.03,245.50 410.78,243.68 412.53,241.59 414.28,239.28 416.03,236.86 417.79,234.49 419.54,232.24 421.29,230.01 423.04,227.61 424.79,224.75 426.54,221.25 428.29,217.11" fill="none" stroke="#f08080" stroke-width="0.5" opacity="0.9" stroke-linejoin="round"/>
<polyline points="288.21,296.30 289.96,295.30 291.71,294.15 293.46,292.89 295.21,291.63 296.96,290.45 298.71,289.43 300.47,288.53 302.22,287.69 303.97,286.84 305.72,285.94 307.47,285.01 309.22,284.10 310.97,283.30 312.72,282.62 314.47,282.07 316.23,281.59 317.98,281.12 319.73,280.63 321.48,280.10 323.23,279.58 324.98,279.08 326.73,278.62 328.48,278.20 330.23,277.79 331.98,277.37 333.74,276.94 335.49,276.50 337.24,276.06 338.99,275.64 340.74,275.24 342.49,274.86 344.24,274.51 345.99,274.16 347.74,273.81 349.49,273.47 351.25,273.13 353.00,272.79 354.75,272.46 356.50,272.13 358.25,271.80 360.00,271.36 361.75,270.91 363.50,270.46 365.25,270.00 367.01,269.54 368.76,269.06 370.51,268.57 372.26,268.06 374.01,267.52 375.76,266.97 377.51,266.40 379.26,265.84 381.01,265.28 382.76,264.71 384.52,264.09 386.27,263.41 388.02,262.65 389.77,261.82 391.52,260.95 393.27,260.07 395.02,259.16 396.77,258.18 398.52,257.08 400.27,255.79 402.03,254.31 403.78,252.70 405.53,251.08 407.28,249.51 409.03,248.01 410.78,246.51 412.53,244.89 414.28,243.02 416.03,240.89 417.79,238.56 419.54,236.19 421.29,233.89 423.04,231.66 424.79,229.38 426.54,226.77 428.29,223.60" fill="none" stroke="#f08080" stroke-width="0.5" opacity="0.9" stroke-linejoin="round"/>
<polyline points="288.21,297.21 289.96,296.29 291.71,295.31 293.46,294.22 295.21,293.05 296.96,291.90 298.71,290.84 300.47,289.93 302.22,289.12 303.97,288.33 305.72,287.50 307.47,286.57 309.22,285.59 310.97,284.62 312.72,283.74 314.47,282.98 316.23,282.34 317.98,281.76 319.73,281.20 321.48,280.62 323.23,280.03 324.98,279.47 326.73,278.96 328.48,278.51 330.23,278.09 331.98,277.69 333.74,277.28 335.49,276.86 337.24,276.42 338.99,275.98 340.74,275.55 342.49,275.14 344.24,274.75 345.99,274.36 347.74,273.98 349.49,273.61 351.25,273.24 353.00,272.87 354.75,272.51 356.50,272.16 358.25,271.80 360.00,271.28 361.75,270.76 363.50,270.23 365.25,269.69 367.01,269.14 368.76,268.59 370.51,268.01 372.26,267.41 374.01,266.77 375.76,266.09 377.51,265.38 379.26,264.66 381.01,263.94 382.76,263.21 384.52,262.47 386.27,261.68 388.02,260.81 389.77,259.87 391.52,258.87 393.27,257.86 395.02,256.85 396.77,255.83 398.52,254.73 400.27,253.46 402.03,251.91 403.78,250.10 405.53,248.11 407.28,246.06 409.03,244.03 410.78,242.03 412.53,239.95 414.28,237.65 416.03,235.00 417.79,232.02 419.54,228.83 421.29,225.64 423.04,222.62 424.79,219.78 426.54,216.94 428.29,213.78" fill="none" stroke="#f08080" stroke-width="0.5" opacity="0.9" stroke-linejoin="round"/>
<polyline points="288.21,301.94 289.96,300.41 291.71,298.80 293.46,297.16 295.21,295.58 296.96,294.20 298.71,293.07 300.47,292.16 302.22,291.39 303.97,290.61 305.72,289.75 307.47,288.81 309.22,287.84 310.97,286.92 312.72,286.09 314.47,285.36 316.23,284.69 317.98,284.00 319.73,283.25 321.48,282.45 323.23,281.64 324.98,280.88 326.73,280.20 328.48,279.61 330.23,279.07 331.98,278.56 333.74,278.05 335.49,277.54 337.24,277.04 338.99,276.55 340.74,276.09 342.49,275.65 344.24,275.22 345.99,274.79 347.74,274.35 349.49,273.92 351.25,273.49 353.00,273.06 354.75,272.64 356.50,272.22 358.25,271.80 360.00,271.48 361.75,271.16 363.50,270.84 365.25,270.51 367.01,270.18 368.76,269.85 370.51,269.51 372.26,269.15 374.01,268.78 375.76,268.38 377.51,267.96 379.26,267.54 381.01,267.09 382.76,266.63 384.52,266.13 386.27,265.57 388.02,264.94 389.77,264.28 391.52,263.60 393.27,262.94 395.02,262.31 396.77,261.69 398.52,261.01 400.27,260.25 402.03,259.36 403.78,258.39 405.53,257.38 407.28,256.39 409.03,255.42 410.78,254.40 412.53,253.22 414.28,251.80 416.03,250.10 417.79,248.16 419.54,246.09 421.29,244.01 423.04,241.97 424.79,239.93 426.54,237.73 428.29,235.25" fill="none" stroke="#f08080" stroke-width="0.5" opacity="0.9" stroke-linejoin="round"/>
<polyline points="288.21,306.23 289.96,304.45 291.71,302.73 293.46,301.19 295.21,299.90 296.96,298.78 298.71,297.71 300.47,296.53 302.22,295.21 303.97,293.77 305.72,292.32 307.47,290.98 309.22,289.80 310.97,288.79 312.72,287.88 314.47,286.98 316.23,286.05 317.98,285.09 319.73,284.16 321.48,283.33 323.23,282.62 324.98,282.03 326.73,281.48 328.48,280.92 330.23,280.34 331.98,279.72 333.74,279.09 335.49,278.49 337.24,277.91 338.99,277.35 340.74,276.82 342.49,276.28 344.24,275.75 345.99,275.22 347.74,274.70 349.49,274.20 351.25,273.71 353.00,273.23 354.75,272.75 356.50,272.28 358.25,271.80 360.00,271.38 361.75,270.96 363.50,270.54 365.25,270.11 367.01,269.67 368.76,269.22 370.51,268.74 372.26,268.24 374.01,267.73 375.76,267.21 377.51,266.68 379.26,266.13 381.01,265.56 382.76,264.94 384.52,264.28 386.27,263.59 388.02,262.90 389.77,262.22 391.52,261.55 393.27,260.85 395.02,260.04 396.77,259.09 398.52,257.97 400.27,256.71 402.03,255.41 403.78,254.11 405.53,252.81 407.28,251.43 409.03,249.87 410.78,248.07 412.53,246.02 414.28,243.82 416.03,241.59 417.79,239.47 419.54,237.48 421.29,235.51 423.04,233.37 424.79,230.88 426.54,227.97 428.29,224.70" fill="none" stroke="#f08080" stroke-width="0.5" opacity="0.9" stroke-linejoin="round"/>
<polyline points="288.21,308.30 289.96,306.87 291.71,305.58 293.46,304.24 295.21,302.76 296.96,301.15 298.71,299.55 300.47,298.08 302.22,296.81 303.97,295.68 305.72,294.61 307.47,293.47 309.22,292.22 310.97,290.87 312.72,289.53 314.47,288.28 316.23,287.20 317.98,286.28 319.73,285.46 321.48,284.66 323.23,283.85 324.98,283.04 326.73,282.26 328.48,281.53 330.23,280.87 331.98,280.27 333.74,279.70 335.49,279.12 337.24,278.52 338.99,277.91 340.74,277.29 342.49,276.68 344.24,276.10 345.99,275.54 347.74,274.98 349.49,274.44 351.25,273.90 353.00,273.37 354.75,272.84 356.50,272.32 358.25,271.80 360.00,271.32 361.75,270.85 363.50,270.36 365.25,269.87 367.01,269.37 368.76,268.86 370.51,268.34 372.26,267.80 374.01,267.23 375.76,266.62 377.51,265.96 379.26,265.28 381.01,264.57 382.76,263.87 384.52,263.17 386.27,262.46 388.02,261.70 389.77,260.87 391.52,259.95 393.27,258.98 395.02,257.98 396.77,257.00 398.52,256.01 400.27,254.97 402.03,253.75 403.78,252.27 405.53,250.53 407.28,248.59 409.03,246.57 410.78,244.57 412.53,242.59 414.28,240.55 416.03,238.30 417.79,235.73 419.54,232.80 421.29,229.64 423.04,226.46 424.79,223.42 426.54,220.57 428.29,217.77" fill="none" stroke="#f08080" stroke-width="0.5" opacity="0.9" stroke-linejoin="round"/>
<polyline points="288.21,314.29 289.96,311.85 291.71,309.33 293.46,306.92 295.21,304.81 296.96,303.01 298.71,301.44 300.47,299.96 302.22,298.44 303.97,296.85 305.72,295.28 307.47,293.82 309.22,292.58 310.97,291.57 312.72,290.73 314.47,289.94 316.23,289.10 317.98,288.16 319.73,287.17 321.48,286.18 323.23,285.26 324.98,284.41 326.73,283.62 328.48,282.84 330.23,282.05 331.98,281.24 333.74,280.42 335.49,279.64 337.24,278.91 338.99,278.24 340.74,277.61 342.49,277.01 344.24,276.41 345.99,275.82 347.74,275.22 349.49,274.64 351.25,274.07 353.00,273.50 354.75,272.93 356.50,272.37 358.25,271.80 360.00,271.63 361.75,271.46 363.50,271.29 365.25,271.12 367.01,270.95 368.76,270.77 370.51,270.58 372.26,270.39 374.01,270.20 375.76,270.00 377.51,269.80 379.26,269.60 381.01,269.39 382.76,269.16 384.52,268.89 386.27,268.61 388.02,268.30 389.77,267.98 391.52,267.65 393.27,267.31 395.02,266.95 396.77,266.54 398.52,266.07 400.27,265.56 402.03,265.03 403.78,264.51 405.53,264.03 407.28,263.57 409.03,263.08 410.78,262.52 412.53,261.86 414.28,261.12 416.03,260.31 417.79,259.49 419.54,258.68 421.29,257.86 423.04,256.97 424.79,255.91 426.54,254.62 428.29,253.12" fill="none" stroke="#f08080" stroke-width="0.5" opacity="0.9" stroke-linejoin="round"/>
<polyline points="288.21,314.96 289.96,312.39 291.71,310.22 293.46,308.49 295.21,307.08 296.96,305.78 298.71,304.41 300.47,302.87 302.22,301.21 303.97,299.55 305.72,298.02 307.47,296.69 309.22,295.50 310.97,294.35 312.72,293.15 314.47,291.83 316.23,290.44 317.98,289.06 319.73,287.81 321.48,286.73 323.23,285.79 324.98,284.95 326.73,284.14 328.48,283.31 330.23,282.48 331.98,281.67 333.74,280.90 335.49,280.20 337.24,279.53 338.99,278.88 340.74,278.22 342.49,277.55 344.24,276.87 345.99,276.19 347.74,275.53 349.49,274.89 351.25,274.26 353.00,273.64 354.75,273.02 356.50,272.41 358.25,271.80 360.00,271.66 361.75,271.52 363.50,271.39 365.25,271.24 367.01,271.10 368.76,270.95 370.51,270.80 372.26,270.64 374.01,270.48 375.76,270.31 377.51,270.13 379.26,269.94 381.01,269.74 382.76,269.51 384.52,269.28 386.27,269.04 388.02,268.81 389.77,268.59 391.52,268.35 393.27,268.10 395.02,267.82 396.77,267.50 398.52,267.15 400.27,266.80 402.03,266.46 403.78,266.12 405.53,265.74 407.28,265.30 409.03,264.76 410.78,264.13 412.53,263.44 414.28,262.72 416.03,262.02 417.79,261.32 419.54,260.61 421.29,259.82 423.04,258.92 424.79,257.90 426.54,256.81 428.29,255.71" fill="none" stroke="#f08080" stroke-width="0.5" opacity="0.9" stroke-linejoin="round"/>
<polyline points="288.21,318.34 289.96,315.53 291.71,313.06 293.46,311.05 295.21,309.45 296.96,308.07 298.71,306.69 300.47,305.15 302.22,303.45 303.97,301.67 305.72,299.98 307.47,298.47 309.22,297.14 310.97,295.92 312.72,294.68 314.47,293.34 316.23,291.90 317.98,290.43 319.73,289.05 321.48,287.83 323.23,286.78 324.98,285.87 326.73,285.01 328.48,284.15 330.23,283.28 331.98,282.41 333.74,281.58 335.49,280.80 337.24,280.08 338.99,279.37 340.74,278.68 342.49,277.96 344.24,277.24 345.99,276.52 347.74,275.81 349.49,275.12 351.25,274.44 353.00,273.77 354.75,273.11 356.50,272.45 358.25,271.80 360.00,271.53 361.75,271.27 363.50,271.00 365.25,270.73 367.01,270.45 368.76,270.17 370.51,269.87 372.26,269.56 374.01,269.25 375.76,268.92 377.51,268.58 379.26,268.22 381.01,267.83 382.76,267.40 384.52,266.94 386.27,266.48 388.02,266.02 389.77,265.57 391.52,265.12 393.27,264.65 395.02,264.12 396.77,263.51 398.52,262.85 400.27,262.15 402.03,261.46 403.78,260.78 405.53,260.06 407.28,259.24 409.03,258.26 410.78,257.08 412.53,255.74 414.28,254.32 416.03,252.90 417.79,251.51 419.54,250.12 421.29,248.65 423.04,246.98 424.79,245.06 426.54,242.95 428.29,240.76" fill="none" stroke="#f08080" stroke-width="0.5" opacity="0.9" stroke-linejoin="round"/>
<polyline points="288.21,324.27 289.96,321.52 291.71,318.60 293.46,315.75 295.21,313.17 296.96,310.95 298.71,308.98 300.47,307.10 302.22,305.16 303.97,303.12 305.72,301.05 307.47,299.11 309.22,297.43 310.97,296.05 312.72,294.92 314.47,293.91 316.23,292.87 317.98,291.75 319.73,290.56 321.48,289.39 323.23,288.30 324.98,287.31 326.73,286.39 328.48,285.48 330.23,284.55 331.98,283.57 333.74,282.58 335.49,281.60 337.24,280.68 338.99,279.83 340.74,279.03 342.49,278.26 344.24,277.51 345.99,276.77 347.74,276.03 349.49,275.31 351.25,274.60 353.00,273.90 354.75,273.20 356.50,272.50 358.25,271.80 360.00,271.40 361.75,271.00 363.50,270.59 365.25,270.18 367.01,269.76 368.76,269.33 370.51,268.88 372.26,268.42 374.01,267.94 375.76,267.46 377.51,266.98 379.26,266.50 381.01,265.99 382.76,265.45 384.52,264.85 386.27,264.19 388.02,263.47 389.77,262.74 391.52,261.99 393.27,261.21 395.02,260.35 396.77,259.38 398.52,258.26 400.27,256.99 402.03,255.66 403.78,254.35 405.53,253.09 407.28,251.89 409.03,250.65 410.78,249.26 412.53,247.67 414.28,245.86 416.03,243.92 417.79,241.98 419.54,240.10 421.29,238.25 423.04,236.27 424.79,233.94 426.54,231.09 428.29,227.68" fill="none" stroke="#f08080" stroke-width="0.5" opacity="0.9" stroke-linejoin="round"/>
<polyline points="288.21,327.59 289.96,324.30 291.71,321.06 293.46,318.10 295.21,315.55 296.96,313.33 298.71,311.26 300.47,309.15 302.22,306.93 303.97,304.67 305.72,302.52 307.47,300.65 309.22,299.11 310.97,297.86 312.72,296.75 314.47,295.64 316.23,294.43 317.98,293.12 319.73,291.81 321.48,290.58 323.23,289.47 324.98,288.43 326.73,287.43 328.48,286.40 330.23,285.33 331.98,284.23 333.74,283.15 335.49,282.12 337.24,281.18 338.99,280.31 340.74,279.48 342.49,278.67 344.24,277.87 345.99,277.08 347.74,276.30 349.49,275.53 351.25,274.78 353.00,274.03 354.75,273.29 356.50,272.54 358.25,271.80 360.00,271.57 361.75,271.33 363.50,271.10 365.25,270.86 367.01,270.61 368.76,270.36 370.51,270.10 372.26,269.84 374.01,269.57 375.76,269.30 377.51,269.02 379.26,268.74 381.01,268.44 382.76,268.11 384.52,267.74 386.27,267.35 388.02,266.94 389.77,266.52 391.52,266.08 393.27,265.62 395.02,265.09 396.77,264.49 398.52,263.81 400.27,263.08 402.03,262.36 403.78,261.68 405.53,261.03 407.28,260.36 409.03,259.63 410.78,258.79 412.53,257.82 414.28,256.76 416.03,255.69 417.79,254.65 419.54,253.62 421.29,252.53 423.04,251.26 424.79,249.72 426.54,247.87 428.29,245.77" fill="none" stroke="#f08080" stroke-width="0.5" opacity="0.9" stroke-linejoin="round"/>
<polyline points="288.21,326.20 289.96,323.74 291.71,321.69 293.46,319.75 295.21,317.68 296.96,315.42 298.71,313.09 300.47,310.88 302.22,308.92 303.97,307.24 305.72,305.74 307.47,304.22 309.22,302.56 310.97,300.71 312.72,298.76 314.47,296.86 316.23,295.13 317.98,293.65 319.73,292.35 321.48,291.13 323.23,289.91 324.98,288.69 326.73,287.48 328.48,286.34 330.23,285.29 331.98,284.36 333.74,283.50 335.49,282.65 337.24,281.79 338.99,280.91 340.74,280.01 342.49,279.11 344.24,278.24 345.99,277.39 347.74,276.57 349.49,275.76 351.25,274.95 353.00,274.15 354.75,273.36 356.50,272.58 358.25,271.80 360.00,271.43 361.75,271.06 363.50,270.69 365.25,270.31 367.01,269.92 368.76,269.53 370.51,269.12 372.26,268.71 374.01,268.28 375.76,267.81 377.51,267.31 379.26,266.77 381.01,266.21 382.76,265.65 384.52,265.08 386.27,264.51 388.02,263.91 389.77,263.26 391.52,262.55 393.27,261.78 395.02,260.99 396.77,260.20 398.52,259.43 400.27,258.65 402.03,257.79 403.78,256.76 405.53,255.52 407.28,254.08 409.03,252.51 410.78,250.91 412.53,249.33 414.28,247.73 416.03,246.01 417.79,244.07 419.54,241.81 421.29,239.29 423.04,236.64 424.79,234.03 426.54,231.57 428.29,229.24" fill="none" stroke="#f08080" stroke-width="0.5" opacity="0.9" stroke-linejoin="round"/>
<line x1="288.21" y1="272.34" x2="428.29" y2="270.99" stroke="#3f9be0" stroke-width="1.0"/>
<line x1="274.2" y1="204.4" x2="274.2" y2="339.2" stroke="#555" stroke-width="1.1"/>
<line x1="442.3" y1="204.4" x2="442.3" y2="339.2" stroke="#555" stroke-width="1.1"/>
<line x1="273.0" y1="204.4" x2="442.8" y2="204.4" stroke="#222" stroke-width="1"/>
<line x1="273.7" y1="339.2" x2="442.8" y2="339.2" stroke="#222" stroke-width="1.1"/>
<line x1="271.59999999999997" y1="217.88000000000002" x2="274.2" y2="217.88000000000002" stroke="#222" stroke-width="0.8"/>
<text x="270.2" y="220.28000000000003" font-size="6.8" text-anchor="end" font-family="'Liberation Sans', sans-serif" fill="#222">1000</text>
<line x1="271.59999999999997" y1="244.84" x2="274.2" y2="244.84" stroke="#222" stroke-width="0.8"/>
<text x="270.2" y="247.24" font-size="6.8" text-anchor="end" font-family="'Liberation Sans', sans-serif" fill="#222">500</text>
<line x1="271.59999999999997" y1="271.8" x2="274.2" y2="271.8" stroke="#222" stroke-width="0.8"/>
<text x="270.2" y="274.2" font-size="6.8" text-anchor="end" font-family="'Liberation Sans', sans-serif" fill="#222">0</text>
<line x1="271.59999999999997" y1="298.76" x2="274.2" y2="298.76" stroke="#222" stroke-width="0.8"/>
<text x="270.2" y="301.15999999999997" font-size="6.8" text-anchor="end" font-family="'Liberation Sans', sans-serif" fill="#222">-500</text>
<line x1="271.59999999999997" y1="325.72" x2="274.2" y2="325.72" stroke="#222" stroke-width="0.8"/>
<text x="270.2" y="328.12" font-size="6.8" text-anchor="end" font-family="'Liberation Sans', sans-serif" fill="#222">-1000</text>
<line x1="272.7" y1="231.36" x2="274.2" y2="231.36" stroke="#222" stroke-width="0.8"/>
<line x1="272.7" y1="258.32" x2="274.2" y2="258.32" stroke="#222" stroke-width="0.8"/>
<line x1="272.7" y1="285.28000000000003" x2="274.2" y2="285.28000000000003" stroke="#222" stroke-width="0.8"/>
<line x1="272.7" y1="312.24" x2="274.2" y2="312.24" stroke="#222" stroke-width="0.8"/>
<line x1="274.2" y1="339.2" x2="274.2" y2="342.0" stroke="#222" stroke-width="0.8"/>
<text x="274.2" y="349.5" font-size="6.8" text-anchor="middle" font-family="'Liberation Sans', sans-serif" fill="#222">-6</text>
<line x1="288.2083333333333" y1="339.2" x2="288.2083333333333" y2="340.8" stroke="#222" stroke-width="0.8"/>
<line x1="302.21666666666664" y1="339.2" x2="302.21666666666664" y2="342.0" stroke="#222" stroke-width="0.8"/>
<text x="302.21666666666664" y="349.5" font-size="6.8" text-anchor="middle" font-family="'Liberation Sans', sans-serif" fill="#222">-4</text>
<line x1="316.225" y1="339.2" x2="316.225" y2="340.8" stroke="#222" stroke-width="0.8"/>
<line x1="330.23333333333335" y1="339.2" x2="330.23333333333335" y2="342.0" stroke="#222" stroke-width="0.8"/>
<text x="330.23333333333335" y="349.5" font-size="6.8" text-anchor="middle" font-family="'Liberation Sans', sans-serif" fill="#222">-2</text>
<line x1="344.2416666666667" y1="339.2" x2="344.2416666666667" y2="340.8" stroke="#222" stroke-width="0.8"/>
<line x1="358.25" y1="339.2" x2="358.25" y2="342.0" stroke="#222" stroke-width="0.8"/>
<text x="358.25" y="349.5" font-size="6.8" text-anchor="middle" font-family="'Liberation Sans', sans-serif" fill="#222">0</text>
<line x1="372.2583333333333" y1="339.2" x2="372.2583333333333" y2="340.8" stroke="#222" stroke-width="0.8"/>
<line x1="386.26666666666665" y1="339.2" x2="386.26666666666665" y2="342.0" stroke="#222" stroke-width="0.8"/>
<text x="386.26666666666665" y="349.5" font-size="6.8" text-anchor="middle" font-family="'Liberation Sans', sans-serif" fill="#222">2</text>
<line x1="400.275" y1="339.2" x2="400.275" y2="340.8" stroke="#222" stroke-width="0.8"/>
<line x1="414.28333333333336" y1="339.2" x2="414.28333333333336" y2="342.0" stroke="#222" stroke-width="0.8"/>
<text x="414.28333333333336" y="349.5" font-size="6.8" text-anchor="middle" font-family="'Liberation Sans', sans-serif" fill="#222">4</text>
<line x1="428.29166666666663" y1="339.2" x2="428.29166666666663" y2="340.8" stroke="#222" stroke-width="0.8"/>
<line x1="442.3" y1="339.2" x2="442.3" y2="342.0" stroke="#222" stroke-width="0.8"/>
<text x="442.3" y="349.5" font-size="6.8" text-anchor="middle" font-family="'Liberation Sans', sans-serif" fill="#222">6</text>
<text x="358.25" y="362.3" font-size="8.4" text-anchor="middle" font-family="'Liberation Sans', sans-serif" fill="#222">Bias (V)</text>
<text transform="translate(248.79999999999998,271.8) rotate(-90)" x="0" y="0" font-size="8.35" text-anchor="middle" font-family="'Liberation Sans', sans-serif" fill="#222">Current (nA)</text>
<text x="234.6" y="189.8" font-size="15.5" font-weight="bold" font-family="'Liberation Sans', sans-serif" fill="#000">c</text>
<text x="330.7" y="298.8" font-size="15.15" font-family="'Liberation Sans', sans-serif" fill="#111">-91.1% ± 0.5%</text>
<text x="309.6" y="324.3" font-size="15.0" font-family="'Liberation Sans', sans-serif" fill="#111">(R)-Ph</text>
<line x1="379.6" y1="314.8" x2="393.3" y2="314.8" stroke="#8cc3ec" stroke-width="0.8"/>
<line x1="379.6" y1="324.8" x2="393.3" y2="324.8" stroke="#f5b8b8" stroke-width="0.8"/>
<text x="397.1" y="317.3" font-size="7" font-family="'Liberation Sans', sans-serif" fill="#333">Mag Up</text>
<text x="397.1" y="327.3" font-size="7" font-family="'Liberation Sans', sans-serif" fill="#333">Mag Down</text>
<path d="M324.20,236.10 C322.58,235.07 323.50,231.48 323.50,229.20 C323.50,226.92 323.62,224.45 324.20,222.40 C324.78,220.35 325.62,218.10 327.00,216.90 C328.38,215.70 330.67,215.08 332.50,215.20 C334.33,215.32 336.97,216.40 338.00,217.60 C339.03,218.80 339.05,220.58 338.70,222.40 C338.35,224.22 336.72,226.67 335.90,228.50 C335.08,230.33 334.25,232.25 333.80,233.40 C333.35,234.55 334.80,234.95 333.20,235.40 C331.60,235.85 325.82,237.13 324.20,236.10 Z" fill="url(#pcb0)" stroke="#6890a2" stroke-width="0.6"/>
<path d="M321.50,240.20 C320.58,239.47 318.78,241.25 317.40,241.60 C316.02,241.95 314.27,241.92 313.20,242.30 C312.13,242.68 311.45,242.98 311.00,243.90 C310.55,244.82 310.35,246.58 310.50,247.80 C310.65,249.02 310.98,250.63 311.90,251.20 C312.82,251.77 314.63,251.65 316.00,251.20 C317.37,250.75 318.95,249.37 320.10,248.50 C321.25,247.63 322.67,247.38 322.90,246.00 C323.13,244.62 322.42,240.93 321.50,240.20 Z" fill="url(#pcb1)" stroke="#6890a2" stroke-width="0.6"/>
<path d="M333.80,243.00 C334.60,242.30 337.47,243.50 339.30,244.30 C341.13,245.10 343.18,246.53 344.80,247.80 C346.42,249.07 348.08,250.65 349.00,251.90 C349.92,253.15 350.42,254.38 350.30,255.30 C350.18,256.22 349.33,257.28 348.30,257.40 C347.27,257.52 345.60,256.80 344.10,256.00 C342.60,255.20 340.90,253.85 339.30,252.60 C337.70,251.35 335.42,250.10 334.50,248.50 C333.58,246.90 333.00,243.70 333.80,243.00 Z" fill="url(#pcb2)" stroke="#6890a2" stroke-width="0.6"/>
<ellipse cx="328.00" cy="241.6" rx="7.00" ry="6.7" fill="#eef8fb"/>
<circle cx="327.2" cy="241.6" r="6.7" fill="url(#pch)" stroke="#6890a2" stroke-width="0.3"/>
<polyline points="519.77,287.68 521.51,286.89 523.26,286.04 525.00,285.14 526.75,284.23 528.50,283.43 530.24,282.80 531.99,282.34 533.73,281.99 535.48,281.64 537.23,281.22 538.97,280.70 540.72,280.12 542.46,279.54 544.21,279.01 545.95,278.57 547.70,278.19 549.45,277.82 551.19,277.42 552.94,276.98 554.68,276.53 556.43,276.11 558.17,275.74 559.92,275.45 561.67,275.20 563.41,274.97 565.16,274.74 566.90,274.51 568.65,274.27 570.40,274.03 572.14,273.80 573.89,273.59 575.63,273.38 577.38,273.18 579.12,272.97 580.87,272.76 582.62,272.55 584.36,272.34 586.11,272.14 587.85,271.95 589.60,271.75 591.35,271.62 593.09,271.49 594.84,271.36 596.58,271.23 598.33,271.09 600.08,270.96 601.82,270.81 603.57,270.66 605.31,270.49 607.06,270.31 608.80,270.11 610.55,269.91 612.30,269.69 614.04,269.47 615.79,269.22 617.53,268.95 619.28,268.63 621.02,268.28 622.77,267.92 624.52,267.57 626.26,267.25 628.01,266.94 629.75,266.61 631.50,266.22 633.25,265.72 634.99,265.12 636.74,264.47 638.48,263.80 640.23,263.15 641.98,262.47 643.72,261.70 645.47,260.75 647.21,259.55 648.96,258.12 650.70,256.53 652.45,254.92 654.20,253.37 655.94,251.89 657.69,250.38 659.43,248.66" fill="none" stroke="#3f9be0" stroke-width="0.55" opacity="0.85" stroke-linejoin="round"/>
<polyline points="519.77,289.07 521.51,287.71 523.26,286.47 525.00,285.46 526.75,284.71 528.50,284.15 530.24,283.67 531.99,283.15 533.73,282.55 535.48,281.91 537.23,281.29 538.97,280.75 540.72,280.32 542.46,279.97 544.21,279.63 545.95,279.23 547.70,278.76 549.45,278.23 551.19,277.69 552.94,277.21 554.68,276.79 556.43,276.44 558.17,276.12 559.92,275.80 561.67,275.48 563.41,275.17 565.16,274.86 566.90,274.59 568.65,274.35 570.40,274.13 572.14,273.92 573.89,273.70 575.63,273.48 577.38,273.25 579.12,273.03 580.87,272.81 582.62,272.59 584.36,272.38 586.11,272.17 587.85,271.96 589.60,271.75 591.35,271.58 593.09,271.40 594.84,271.23 596.58,271.05 598.33,270.87 600.08,270.68 601.82,270.48 603.57,270.27 605.31,270.06 607.06,269.83 608.80,269.60 610.55,269.34 612.30,269.06 614.04,268.72 615.79,268.34 617.53,267.93 619.28,267.50 621.02,267.09 622.77,266.67 624.52,266.24 626.26,265.76 628.01,265.21 629.75,264.58 631.50,263.90 633.25,263.24 634.99,262.63 636.74,262.04 638.48,261.39 640.23,260.57 641.98,259.51 643.72,258.19 645.47,256.69 647.21,255.10 648.96,253.51 650.70,251.92 652.45,250.21 654.20,248.22 655.94,245.81 657.69,242.96 659.43,239.82" fill="none" stroke="#3f9be0" stroke-width="0.55" opacity="0.85" stroke-linejoin="round"/>
<polyline points="519.77,289.61 521.51,288.74 523.26,287.77 525.00,286.80 526.75,285.94 528.50,285.25 530.24,284.72 531.99,284.26 533.73,283.76 535.48,283.16 537.23,282.43 538.97,281.64 540.72,280.88 542.46,280.22 544.21,279.67 545.95,279.20 547.70,278.76 549.45,278.29 551.19,277.79 552.94,277.29 554.68,276.84 556.43,276.47 558.17,276.18 559.92,275.93 561.67,275.69 563.41,275.44 565.16,275.17 566.90,274.88 568.65,274.60 570.40,274.33 572.14,274.08 573.89,273.83 575.63,273.59 577.38,273.35 579.12,273.10 580.87,272.87 582.62,272.63 584.36,272.41 586.11,272.19 587.85,271.97 589.60,271.75 591.35,271.60 593.09,271.45 594.84,271.29 596.58,271.14 598.33,270.98 600.08,270.82 601.82,270.64 603.57,270.45 605.31,270.24 607.06,270.02 608.80,269.79 610.55,269.56 612.30,269.32 614.04,269.06 615.79,268.78 617.53,268.46 619.28,268.11 621.02,267.76 622.77,267.42 624.52,267.10 626.26,266.77 628.01,266.41 629.75,265.95 631.50,265.36 633.25,264.66 634.99,263.90 636.74,263.12 638.48,262.34 640.23,261.54 641.98,260.62 643.72,259.51 645.47,258.17 647.21,256.62 648.96,254.98 650.70,253.39 652.45,251.91 654.20,250.52 655.94,249.08 657.69,247.41 659.43,245.37" fill="none" stroke="#3f9be0" stroke-width="0.55" opacity="0.85" stroke-linejoin="round"/>
<polyline points="519.77,291.32 521.51,290.47 523.26,289.64 525.00,288.70 526.75,287.60 528.50,286.40 530.24,285.21 531.99,284.17 533.73,283.33 535.48,282.67 537.23,282.11 538.97,281.57 540.72,280.99 542.46,280.38 544.21,279.78 545.95,279.26 547.70,278.85 549.45,278.54 551.19,278.27 552.94,277.97 554.68,277.63 556.43,277.22 558.17,276.79 559.92,276.38 561.67,276.01 563.41,275.68 565.16,275.37 566.90,275.06 568.65,274.75 570.40,274.45 572.14,274.15 573.89,273.87 575.63,273.61 577.38,273.37 579.12,273.14 580.87,272.91 582.62,272.67 584.36,272.44 586.11,272.21 587.85,271.98 589.60,271.75 591.35,271.53 593.09,271.30 594.84,271.07 596.58,270.82 598.33,270.58 600.08,270.33 601.82,270.07 603.57,269.81 605.31,269.53 607.06,269.24 608.80,268.92 610.55,268.58 612.30,268.23 614.04,267.88 615.79,267.53 617.53,267.15 619.28,266.70 621.02,266.16 622.77,265.51 624.52,264.76 626.26,263.97 628.01,263.18 629.75,262.40 631.50,261.59 633.25,260.67 634.99,259.58 636.74,258.31 638.48,256.94 640.23,255.57 641.98,254.30 643.72,253.15 645.47,252.00 647.21,250.69 648.96,249.03 650.70,246.93 652.45,244.47 654.20,241.81 655.94,239.12 657.69,236.45 659.43,233.64" fill="none" stroke="#3f9be0" stroke-width="0.55" opacity="0.85" stroke-linejoin="round"/>
<polyline points="519.77,291.09 521.51,289.83 523.26,288.87 525.00,288.09 526.75,287.33 528.50,286.51 530.24,285.62 531.99,284.74 533.73,283.96 535.48,283.36 537.23,282.90 538.97,282.51 540.72,282.09 542.46,281.57 544.21,280.95 545.95,280.28 547.70,279.63 549.45,279.06 551.19,278.58 552.94,278.15 554.68,277.72 556.43,277.29 558.17,276.83 559.92,276.39 561.67,275.99 563.41,275.64 565.16,275.34 566.90,275.08 568.65,274.82 570.40,274.56 572.14,274.29 573.89,274.02 575.63,273.75 577.38,273.48 579.12,273.23 580.87,272.98 582.62,272.73 584.36,272.48 586.11,272.24 587.85,271.99 589.60,271.75 591.35,271.55 593.09,271.36 594.84,271.16 596.58,270.96 598.33,270.75 600.08,270.54 601.82,270.32 603.57,270.09 605.31,269.86 607.06,269.61 608.80,269.32 610.55,269.00 612.30,268.64 614.04,268.26 615.79,267.87 617.53,267.47 619.28,267.05 621.02,266.60 622.77,266.08 624.52,265.48 626.26,264.85 628.01,264.21 629.75,263.60 631.50,263.04 633.25,262.49 634.99,261.86 636.74,261.04 638.48,260.01 640.23,258.79 641.98,257.46 643.72,256.11 645.47,254.76 647.21,253.35 648.96,251.72 650.70,249.72 652.45,247.27 654.20,244.43 655.94,241.40 657.69,238.43 659.43,235.64" fill="none" stroke="#3f9be0" stroke-width="0.55" opacity="0.85" stroke-linejoin="round"/>
<polyline points="519.77,292.76 521.51,291.26 523.26,290.06 525.00,289.09 526.75,288.19 528.50,287.25 530.24,286.23 531.99,285.21 533.73,284.28 535.48,283.53 537.23,282.98 538.97,282.57 540.72,282.20 542.46,281.77 544.21,281.24 545.95,280.64 547.70,280.02 549.45,279.47 551.19,278.99 552.94,278.57 554.68,278.16 556.43,277.71 558.17,277.24 559.92,276.76 561.67,276.30 563.41,275.88 565.16,275.53 566.90,275.22 568.65,274.94 570.40,274.66 572.14,274.38 573.89,274.09 575.63,273.82 577.38,273.54 579.12,273.28 580.87,273.03 582.62,272.77 584.36,272.51 586.11,272.26 587.85,272.00 589.60,271.75 591.35,271.61 593.09,271.48 594.84,271.34 596.58,271.19 598.33,271.05 600.08,270.90 601.82,270.74 603.57,270.59 605.31,270.43 607.06,270.26 608.80,270.08 610.55,269.87 612.30,269.63 614.04,269.37 615.79,269.10 617.53,268.82 619.28,268.52 621.02,268.20 622.77,267.83 624.52,267.40 626.26,266.91 628.01,266.40 629.75,265.91 631.50,265.45 633.25,265.03 634.99,264.59 636.74,264.06 638.48,263.40 640.23,262.61 641.98,261.74 643.72,260.84 645.47,259.96 647.21,259.08 648.96,258.09 650.70,256.87 652.45,255.32 654.20,253.42 655.94,251.26 657.69,249.02 659.43,246.82" fill="none" stroke="#3f9be0" stroke-width="0.55" opacity="0.85" stroke-linejoin="round"/>
<polyline points="519.77,293.89 521.51,292.62 523.26,291.56 525.00,290.71 526.75,289.93 528.50,289.09 530.24,288.09 531.99,286.94 533.73,285.75 535.48,284.62 537.23,283.68 538.97,282.92 540.72,282.30 542.46,281.73 544.21,281.14 545.95,280.50 547.70,279.86 549.45,279.27 551.19,278.80 552.94,278.44 554.68,278.14 556.43,277.84 558.17,277.50 559.92,277.11 561.67,276.70 563.41,276.28 565.16,275.90 566.90,275.54 568.65,275.21 570.40,274.89 572.14,274.57 573.89,274.25 575.63,273.93 577.38,273.63 579.12,273.34 580.87,273.07 582.62,272.80 584.36,272.54 586.11,272.28 587.85,272.01 589.60,271.75 591.35,271.55 593.09,271.34 594.84,271.14 596.58,270.92 598.33,270.70 600.08,270.47 601.82,270.22 603.57,269.97 605.31,269.71 607.06,269.45 608.80,269.17 610.55,268.87 612.30,268.55 614.04,268.19 615.79,267.83 617.53,267.46 619.28,267.11 621.02,266.73 622.77,266.31 624.52,265.78 626.26,265.12 628.01,264.34 629.75,263.49 631.50,262.62 633.25,261.77 634.99,260.90 636.74,259.94 638.48,258.80 640.23,257.44 641.98,255.92 643.72,254.34 645.47,252.83 647.21,251.46 648.96,250.17 650.70,248.81 652.45,247.15 654.20,245.06 655.94,242.53 657.69,239.71 659.43,236.81" fill="none" stroke="#3f9be0" stroke-width="0.55" opacity="0.85" stroke-linejoin="round"/>
<polyline points="519.77,294.31 521.51,292.59 523.26,291.24 525.00,290.21 526.75,289.35 528.50,288.51 530.24,287.59 531.99,286.61 533.73,285.65 535.48,284.82 537.23,284.17 538.97,283.69 540.72,283.27 542.46,282.81 544.21,282.25 545.95,281.58 547.70,280.86 549.45,280.17 551.19,279.57 552.94,279.05 554.68,278.58 556.43,278.11 558.17,277.63 559.92,277.13 561.67,276.65 563.41,276.22 565.16,275.84 566.90,275.51 568.65,275.21 570.40,274.92 572.14,274.63 573.89,274.33 575.63,274.02 577.38,273.72 579.12,273.43 580.87,273.14 582.62,272.86 584.36,272.58 586.11,272.30 587.85,272.03 589.60,271.75 591.35,271.64 593.09,271.52 594.84,271.41 596.58,271.29 598.33,271.17 600.08,271.04 601.82,270.91 603.57,270.78 605.31,270.64 607.06,270.50 608.80,270.34 610.55,270.17 612.30,269.96 614.04,269.74 615.79,269.49 617.53,269.25 619.28,269.00 621.02,268.73 622.77,268.44 624.52,268.11 626.26,267.73 628.01,267.33 629.75,266.92 631.50,266.53 633.25,266.19 634.99,265.84 636.74,265.43 638.48,264.91 640.23,264.25 641.98,263.48 643.72,262.65 645.47,261.80 647.21,260.96 648.96,260.07 650.70,259.04 652.45,257.76 654.20,256.19 655.94,254.38 657.69,252.45 659.43,250.56" fill="none" stroke="#3f9be0" stroke-width="0.55" opacity="0.85" stroke-linejoin="round"/>
<polyline points="519.77,295.11 521.51,293.61 523.26,292.13 525.00,290.84 526.75,289.83 528.50,289.11 530.24,288.54 531.99,287.98 533.73,287.29 535.48,286.44 537.23,285.49 538.97,284.56 540.72,283.72 542.46,283.02 544.21,282.41 545.95,281.82 547.70,281.18 549.45,280.46 551.19,279.72 552.94,279.02 554.68,278.43 556.43,277.96 558.17,277.57 559.92,277.22 561.67,276.87 563.41,276.51 565.16,276.13 566.90,275.76 568.65,275.41 570.40,275.09 572.14,274.78 573.89,274.47 575.63,274.16 577.38,273.84 579.12,273.52 580.87,273.21 582.62,272.91 584.36,272.61 586.11,272.32 587.85,272.04 589.60,271.75 591.35,271.59 593.09,271.43 594.84,271.27 596.58,271.11 598.33,270.95 600.08,270.77 601.82,270.59 603.57,270.39 605.31,270.18 607.06,269.96 608.80,269.73 610.55,269.49 612.30,269.22 614.04,268.93 615.79,268.60 617.53,268.24 619.28,267.86 621.02,267.49 622.77,267.15 624.52,266.81 626.26,266.46 628.01,266.04 629.75,265.52 631.50,264.90 633.25,264.23 634.99,263.54 636.74,262.87 638.48,262.17 640.23,261.37 641.98,260.37 643.72,259.11 645.47,257.62 647.21,255.98 648.96,254.33 650.70,252.74 652.45,251.21 654.20,249.63 655.94,247.83 657.69,245.68 659.43,243.18" fill="none" stroke="#3f9be0" stroke-width="0.55" opacity="0.85" stroke-linejoin="round"/>
<polyline points="519.77,297.31 521.51,295.61 523.26,294.17 525.00,292.97 526.75,291.88 528.50,290.76 530.24,289.51 531.99,288.17 533.73,286.84 535.48,285.67 537.23,284.73 538.97,284.04 540.72,283.50 542.46,282.99 544.21,282.44 545.95,281.82 547.70,281.17 549.45,280.56 551.19,280.05 552.94,279.63 554.68,279.25 556.43,278.84 558.17,278.37 559.92,277.86 561.67,277.33 563.41,276.82 565.16,276.35 566.90,275.94 568.65,275.57 570.40,275.21 572.14,274.86 573.89,274.51 575.63,274.17 577.38,273.85 579.12,273.54 580.87,273.24 582.62,272.94 584.36,272.64 586.11,272.35 587.85,272.05 589.60,271.75 591.35,271.53 593.09,271.31 594.84,271.09 596.58,270.86 598.33,270.62 600.08,270.37 601.82,270.12 603.57,269.86 605.31,269.60 607.06,269.33 608.80,269.05 610.55,268.74 612.30,268.40 614.04,268.02 615.79,267.61 617.53,267.20 619.28,266.77 621.02,266.31 622.77,265.77 624.52,265.12 626.26,264.33 628.01,263.44 629.75,262.51 631.50,261.59 633.25,260.73 634.99,259.89 636.74,258.97 638.48,257.88 640.23,256.59 641.98,255.15 643.72,253.66 645.47,252.23 647.21,250.91 648.96,249.60 650.70,248.10 652.45,246.17 654.20,243.68 655.94,240.64 657.69,237.23 659.43,233.70" fill="none" stroke="#3f9be0" stroke-width="0.55" opacity="0.85" stroke-linejoin="round"/>
<polyline points="519.77,296.82 521.51,294.96 523.26,293.35 525.00,292.11 526.75,291.23 528.50,290.55 530.24,289.90 531.99,289.13 533.73,288.21 535.48,287.21 537.23,286.24 538.97,285.41 540.72,284.72 542.46,284.11 544.21,283.50 545.95,282.79 547.70,281.99 549.45,281.14 551.19,280.32 552.94,279.62 554.68,279.04 556.43,278.56 558.17,278.13 559.92,277.70 561.67,277.26 563.41,276.82 565.16,276.39 566.90,276.01 568.65,275.67 570.40,275.34 572.14,275.02 573.89,274.69 575.63,274.34 577.38,274.00 579.12,273.65 580.87,273.32 582.62,273.00 584.36,272.68 586.11,272.37 587.85,272.06 589.60,271.75 591.35,271.61 593.09,271.46 594.84,271.32 596.58,271.17 598.33,271.02 600.08,270.86 601.82,270.70 603.57,270.52 605.31,270.34 607.06,270.14 608.80,269.94 610.55,269.72 612.30,269.47 614.04,269.19 615.79,268.87 617.53,268.54 619.28,268.21 621.02,267.90 622.77,267.59 624.52,267.26 626.26,266.89 628.01,266.45 629.75,265.94 631.50,265.40 633.25,264.87 634.99,264.36 636.74,263.84 638.48,263.22 640.23,262.44 641.98,261.44 643.72,260.24 645.47,258.92 647.21,257.56 648.96,256.23 650.70,254.91 652.45,253.50 654.20,251.86 655.94,249.90 657.69,247.66 659.43,245.26" fill="none" stroke="#3f9be0" stroke-width="0.55" opacity="0.85" stroke-linejoin="round"/>
<polyline points="519.77,298.50 521.51,296.64 523.26,295.14 525.00,293.89 526.75,292.70 528.50,291.45 530.24,290.11 531.99,288.77 533.73,287.56 535.48,286.60 537.23,285.91 538.97,285.38 540.72,284.90 542.46,284.35 544.21,283.68 545.95,282.93 547.70,282.17 549.45,281.50 551.19,280.92 552.94,280.41 554.68,279.90 556.43,279.34 558.17,278.74 559.92,278.12 561.67,277.53 563.41,277.01 565.16,276.56 566.90,276.16 568.65,275.80 570.40,275.44 572.14,275.07 573.89,274.71 575.63,274.36 577.38,274.02 579.12,273.69 580.87,273.36 582.62,273.04 584.36,272.72 586.11,272.39 587.85,272.07 589.60,271.75 591.35,271.64 593.09,271.54 594.84,271.43 596.58,271.31 598.33,271.20 600.08,271.08 601.82,270.96 603.57,270.84 605.31,270.71 607.06,270.58 608.80,270.44 610.55,270.28 612.30,270.09 614.04,269.89 615.79,269.68 617.53,269.47 619.28,269.24 621.02,268.99 622.77,268.69 624.52,268.34 626.26,267.96 628.01,267.56 629.75,267.16 631.50,266.80 633.25,266.46 634.99,266.10 636.74,265.68 638.48,265.15 640.23,264.53 641.98,263.86 643.72,263.17 645.47,262.51 647.21,261.85 648.96,261.09 650.70,260.15 652.45,258.94 654.20,257.46 655.94,255.79 657.69,254.05 659.43,252.35" fill="none" stroke="#3f9be0" stroke-width="0.55" opacity="0.85" stroke-linejoin="round"/>
<polyline points="519.77,300.71 521.51,299.21 523.26,297.45 525.00,295.64 526.75,293.97 528.50,292.56 530.24,291.39 531.99,290.35 533.73,289.28 535.48,288.11 537.23,286.86 538.97,285.65 540.72,284.59 542.46,283.76 544.21,283.14 545.95,282.65 547.70,282.19 549.45,281.66 551.19,281.07 552.94,280.45 554.68,279.87 556.43,279.35 558.17,278.90 559.92,278.47 561.67,278.02 563.41,277.55 565.16,277.04 566.90,276.53 568.65,276.04 570.40,275.60 572.14,275.20 573.89,274.82 575.63,274.46 577.38,274.11 579.12,273.76 580.87,273.41 582.62,273.07 584.36,272.74 586.11,272.41 587.85,272.08 589.60,271.75 591.35,271.57 593.09,271.39 594.84,271.20 596.58,271.01 598.33,270.82 600.08,270.61 601.82,270.40 603.57,270.17 605.31,269.93 607.06,269.69 608.80,269.45 610.55,269.20 612.30,268.96 614.04,268.68 615.79,268.37 617.53,268.01 619.28,267.61 621.02,267.17 622.77,266.73 624.52,266.27 626.26,265.77 628.01,265.18 629.75,264.47 631.50,263.62 633.25,262.67 634.99,261.69 636.74,260.75 638.48,259.87 640.23,259.01 641.98,258.07 643.72,256.96 645.47,255.62 647.21,254.11 648.96,252.55 650.70,251.04 652.45,249.62 654.20,248.18 655.94,246.50 657.69,244.34 659.43,241.55" fill="none" stroke="#3f9be0" stroke-width="0.55" opacity="0.85" stroke-linejoin="round"/>
<polyline points="519.77,299.25 521.51,298.16 523.26,296.93 525.00,295.55 526.75,294.12 528.50,292.82 530.24,291.76 531.99,290.93 533.73,290.21 535.48,289.46 537.23,288.55 538.97,287.47 540.72,286.29 542.46,285.14 544.21,284.13 545.95,283.29 547.70,282.59 549.45,281.94 551.19,281.26 552.94,280.55 554.68,279.83 556.43,279.19 558.17,278.65 559.92,278.20 561.67,277.82 563.41,277.46 565.16,277.08 566.90,276.66 568.65,276.23 570.40,275.80 572.14,275.38 573.89,274.99 575.63,274.61 577.38,274.24 579.12,273.87 580.87,273.50 582.62,273.13 584.36,272.78 586.11,272.43 587.85,272.09 589.60,271.75 591.35,271.52 593.09,271.29 594.84,271.05 596.58,270.81 598.33,270.57 600.08,270.31 601.82,270.05 603.57,269.76 605.31,269.45 607.06,269.11 608.80,268.74 610.55,268.37 612.30,267.98 614.04,267.59 615.79,267.18 617.53,266.72 619.28,266.20 621.02,265.63 622.77,265.05 624.52,264.48 626.26,263.95 628.01,263.41 629.75,262.81 631.50,262.04 633.25,261.05 634.99,259.86 636.74,258.55 638.48,257.21 640.23,255.88 641.98,254.51 643.72,252.98 645.47,251.15 647.21,248.93 648.96,246.38 650.70,243.66 652.45,241.00 654.20,238.54 655.94,236.26 657.69,233.93 659.43,231.23" fill="none" stroke="#3f9be0" stroke-width="0.55" opacity="0.85" stroke-linejoin="round"/>
<polyline points="519.77,302.33 521.51,300.64 523.26,298.81 525.00,297.07 526.75,295.56 528.50,294.30 530.24,293.19 531.99,292.06 533.73,290.80 535.48,289.40 537.23,287.96 538.97,286.63 540.72,285.53 542.46,284.68 544.21,284.03 545.95,283.44 547.70,282.84 549.45,282.17 551.19,281.47 552.94,280.81 554.68,280.25 556.43,279.78 558.17,279.35 559.92,278.93 561.67,278.46 563.41,277.94 565.16,277.39 566.90,276.85 568.65,276.35 570.40,275.90 572.14,275.47 573.89,275.07 575.63,274.67 577.38,274.28 579.12,273.89 580.87,273.52 582.62,273.16 584.36,272.80 586.11,272.45 587.85,272.10 589.60,271.75 591.35,271.63 593.09,271.51 594.84,271.38 596.58,271.25 598.33,271.12 600.08,270.98 601.82,270.84 603.57,270.68 605.31,270.52 607.06,270.36 608.80,270.19 610.55,270.03 612.30,269.85 614.04,269.66 615.79,269.44 617.53,269.20 619.28,268.94 621.02,268.68 622.77,268.41 624.52,268.13 626.26,267.80 628.01,267.39 629.75,266.89 631.50,266.31 633.25,265.67 634.99,265.04 636.74,264.44 638.48,263.85 640.23,263.22 641.98,262.49 643.72,261.62 645.47,260.63 647.21,259.60 648.96,258.59 650.70,257.67 652.45,256.80 654.20,255.86 655.94,254.69 657.69,253.16 659.43,251.27" fill="none" stroke="#3f9be0" stroke-width="0.55" opacity="0.85" stroke-linejoin="round"/>
<polyline points="519.77,303.66 521.51,302.04 523.26,300.12 525.00,298.01 526.75,295.93 528.50,294.10 530.24,292.61 531.99,291.42 533.73,290.40 535.48,289.38 537.23,288.29 538.97,287.15 540.72,286.05 542.46,285.12 544.21,284.40 545.95,283.87 547.70,283.42 549.45,282.94 551.19,282.35 552.94,281.67 554.68,280.96 556.43,280.27 558.17,279.64 559.92,279.08 561.67,278.56 563.41,278.04 565.16,277.50 566.90,276.96 568.65,276.43 570.40,275.94 572.14,275.50 573.89,275.09 575.63,274.71 577.38,274.34 579.12,273.96 580.87,273.59 582.62,273.21 584.36,272.84 586.11,272.48 587.85,272.11 589.60,271.75 591.35,271.58 593.09,271.42 594.84,271.24 596.58,271.07 598.33,270.89 600.08,270.71 601.82,270.52 603.57,270.32 605.31,270.11 607.06,269.89 608.80,269.66 610.55,269.43 612.30,269.20 614.04,268.95 615.79,268.67 617.53,268.34 619.28,267.94 621.02,267.50 622.77,267.02 624.52,266.53 626.26,266.04 628.01,265.52 629.75,264.93 631.50,264.23 633.25,263.41 634.99,262.53 636.74,261.66 638.48,260.85 640.23,260.11 641.98,259.38 643.72,258.54 645.47,257.49 647.21,256.19 648.96,254.68 650.70,253.08 652.45,251.48 654.20,249.90 655.94,248.23 657.69,246.24 659.43,243.72" fill="none" stroke="#3f9be0" stroke-width="0.55" opacity="0.85" stroke-linejoin="round"/>
<polyline points="519.77,304.99 521.51,303.37 523.26,302.02 525.00,300.73 526.75,299.27 528.50,297.56 530.24,295.65 531.99,293.73 533.73,292.00 535.48,290.58 537.23,289.47 538.97,288.53 540.72,287.64 542.46,286.68 544.21,285.66 545.95,284.66 547.70,283.79 549.45,283.10 551.19,282.57 552.94,282.12 554.68,281.65 556.43,281.09 558.17,280.45 559.92,279.77 561.67,279.11 563.41,278.50 565.16,277.96 566.90,277.44 568.65,276.94 570.40,276.43 572.14,275.93 573.89,275.44 575.63,274.97 577.38,274.53 579.12,274.12 580.87,273.73 582.62,273.33 584.36,272.93 586.11,272.54 587.85,272.14 589.60,271.75 591.35,271.56 593.09,271.37 594.84,271.18 596.58,270.98 598.33,270.77 600.08,270.56 601.82,270.33 603.57,270.11 605.31,269.88 607.06,269.64 608.80,269.38 610.55,269.09 612.30,268.79 614.04,268.48 615.79,268.17 617.53,267.86 619.28,267.52 621.02,267.14 622.77,266.66 624.52,266.08 626.26,265.40 628.01,264.68 629.75,263.96 631.50,263.25 633.25,262.51 634.99,261.68 636.74,260.68 638.48,259.52 640.23,258.24 641.98,256.96 643.72,255.76 645.47,254.67 647.21,253.61 648.96,252.42 650.70,250.95 652.45,249.08 654.20,246.88 655.94,244.48 657.69,242.05 659.43,239.65" fill="none" stroke="#3f9be0" stroke-width="0.55" opacity="0.85" stroke-linejoin="round"/>
<polyline points="519.77,308.69 521.51,306.81 523.26,305.18 525.00,303.58 526.75,301.78 528.50,299.73 530.24,297.54 531.99,295.43 533.73,293.62 535.48,292.19 537.23,291.09 538.97,290.16 540.72,289.24 542.46,288.23 544.21,287.16 545.95,286.12 547.70,285.21 549.45,284.51 551.19,283.95 552.94,283.43 554.68,282.85 556.43,282.16 558.17,281.39 559.92,280.59 561.67,279.83 563.41,279.15 565.16,278.54 566.90,277.98 568.65,277.42 570.40,276.86 572.14,276.31 573.89,275.78 575.63,275.28 577.38,274.81 579.12,274.37 580.87,273.93 582.62,273.50 584.36,273.06 586.11,272.62 587.85,272.18 589.60,271.75 591.35,271.54 593.09,271.33 594.84,271.11 596.58,270.89 598.33,270.65 600.08,270.42 601.82,270.17 603.57,269.93 605.31,269.68 607.06,269.41 608.80,269.12 610.55,268.80 612.30,268.47 614.04,268.12 615.79,267.77 617.53,267.41 619.28,267.02 621.02,266.55 622.77,265.97 624.52,265.28 626.26,264.50 628.01,263.70 629.75,262.91 631.50,262.14 633.25,261.34 634.99,260.42 636.74,259.34 638.48,258.09 640.23,256.74 641.98,255.42 643.72,254.20 645.47,253.08 647.21,251.93 648.96,250.57 650.70,248.82 652.45,246.61 654.20,244.03 655.94,241.25 657.69,238.44 659.43,235.63" fill="none" stroke="#3f9be0" stroke-width="0.55" opacity="0.85" stroke-linejoin="round"/>
<polyline points="519.77,310.28 521.51,307.29 523.26,304.59 525.00,302.68 526.75,301.72 528.50,301.41 530.24,301.22 531.99,300.63 533.73,299.40 535.48,297.62 537.23,295.65 538.97,293.86 540.72,292.47 542.46,291.42 544.21,290.48 545.95,289.39 547.70,288.01 549.45,286.38 551.19,284.77 552.94,283.41 554.68,282.43 556.43,281.80 558.17,281.36 559.92,280.91 561.67,280.38 563.41,279.76 565.16,279.11 566.90,278.50 568.65,277.96 570.40,277.48 572.14,277.00 573.89,276.49 575.63,275.94 577.38,275.36 579.12,274.79 580.87,274.24 582.62,273.71 584.36,273.21 586.11,272.72 587.85,272.24 589.60,271.75 591.35,271.53 593.09,271.32 594.84,271.10 596.58,270.89 598.33,270.66 600.08,270.42 601.82,270.15 603.57,269.85 605.31,269.54 607.06,269.22 608.80,268.88 610.55,268.52 612.30,268.11 614.04,267.62 615.79,267.06 617.53,266.46 619.28,265.88 621.02,265.38 622.77,264.97 624.52,264.59 626.26,264.12 628.01,263.45 629.75,262.53 631.50,261.44 633.25,260.33 634.99,259.32 636.74,258.37 638.48,257.30 640.23,255.83 641.98,253.73 643.72,250.95 645.47,247.69 647.21,244.35 648.96,241.27 650.70,238.59 652.45,236.11 654.20,233.32 655.94,229.76 657.69,225.23 659.43,220.05" fill="none" stroke="#3f9be0" stroke-width="0.55" opacity="0.85" stroke-linejoin="round"/>
<polyline points="519.77,319.49 521.51,316.79 523.26,313.30 525.00,309.28 526.75,305.34 528.50,302.10 530.24,299.91 531.99,298.64 533.73,297.88 535.48,297.10 537.23,295.98 538.97,294.52 540.72,292.96 542.46,291.65 544.21,290.77 545.95,290.29 547.70,289.95 549.45,289.42 551.19,288.51 552.94,287.26 554.68,285.84 556.43,284.44 558.17,283.27 559.92,282.33 561.67,281.54 563.41,280.79 565.16,280.01 566.90,279.20 568.65,278.40 570.40,277.69 572.14,277.08 573.89,276.55 575.63,276.06 577.38,275.56 579.12,275.03 580.87,274.48 582.62,273.92 584.36,273.37 586.11,272.83 587.85,272.29 589.60,271.75 591.35,271.51 593.09,271.26 594.84,271.00 596.58,270.75 598.33,270.49 600.08,270.23 601.82,269.97 603.57,269.68 605.31,269.37 607.06,269.03 608.80,268.67 610.55,268.32 612.30,267.96 614.04,267.57 615.79,267.09 617.53,266.46 619.28,265.66 621.02,264.74 622.77,263.76 624.52,262.82 626.26,261.99 628.01,261.20 629.75,260.31 631.50,259.18 633.25,257.76 634.99,256.19 636.74,254.70 638.48,253.47 640.23,252.54 641.98,251.71 643.72,250.59 645.47,248.77 647.21,246.06 648.96,242.57 650.70,238.68 652.45,234.86 654.20,231.27 655.94,227.66 657.69,223.36 659.43,217.61" fill="none" stroke="#3f9be0" stroke-width="0.55" opacity="0.85" stroke-linejoin="round"/>
<polyline points="519.77,318.13 521.51,314.79 523.26,312.49 525.00,310.60 526.75,308.52 528.50,305.97 530.24,303.14 531.99,300.52 533.73,298.56 535.48,297.47 537.23,297.05 538.97,296.86 540.72,296.43 542.46,295.48 544.21,294.04 545.95,292.38 547.70,290.84 549.45,289.63 551.19,288.70 552.94,287.84 554.68,286.85 556.43,285.60 558.17,284.22 559.92,282.86 561.67,281.68 563.41,280.75 565.16,280.04 566.90,279.46 568.65,278.90 570.40,278.30 572.14,277.66 573.89,277.01 575.63,276.39 577.38,275.80 579.12,275.24 580.87,274.67 582.62,274.09 584.36,273.50 586.11,272.91 587.85,272.33 589.60,271.75 591.35,271.48 593.09,271.21 594.84,270.94 596.58,270.66 598.33,270.37 600.08,270.08 601.82,269.78 603.57,269.50 605.31,269.20 607.06,268.86 608.80,268.46 610.55,267.98 612.30,267.43 614.04,266.84 615.79,266.25 617.53,265.64 619.28,264.98 621.02,264.18 622.77,263.19 624.52,262.01 626.26,260.76 628.01,259.58 629.75,258.59 631.50,257.83 633.25,257.15 634.99,256.28 636.74,255.00 638.48,253.24 640.23,251.16 641.98,249.03 643.72,247.09 645.47,245.34 647.21,243.46 648.96,240.88 650.70,237.08 652.45,231.87 654.20,225.56 655.94,218.86 657.69,212.51 659.43,206.88" fill="none" stroke="#3f9be0" stroke-width="0.55" opacity="0.85" stroke-linejoin="round"/>
<line x1="519.77" y1="272.76" x2="659.43" y2="270.91" stroke="#f08080" stroke-width="0.6" opacity="0.75"/><line x1="519.77" y1="273.44" x2="659.43" y2="270.40" stroke="#f08080" stroke-width="0.6" opacity="0.75"/><line x1="519.77" y1="273.94" x2="659.43" y2="269.90" stroke="#f08080" stroke-width="0.6" opacity="0.75"/><line x1="519.77" y1="273.18" x2="659.43" y2="269.56" stroke="#f08080" stroke-width="0.6" opacity="0.75"/>
<line x1="505.8" y1="204.3" x2="505.8" y2="339.2" stroke="#555" stroke-width="1.1"/>
<line x1="673.4" y1="204.3" x2="673.4" y2="339.2" stroke="#555" stroke-width="1.1"/>
<line x1="504.6" y1="204.3" x2="673.9" y2="204.3" stroke="#222" stroke-width="1"/>
<line x1="505.3" y1="339.2" x2="673.9" y2="339.2" stroke="#222" stroke-width="1.1"/>
<line x1="503.2" y1="204.3" x2="505.8" y2="204.3" stroke="#222" stroke-width="0.8"/>
<text x="501.8" y="206.70000000000002" font-size="6.8" text-anchor="end" font-family="'Liberation Sans', sans-serif" fill="#222">4000</text>
<line x1="503.2" y1="238.025" x2="505.8" y2="238.025" stroke="#222" stroke-width="0.8"/>
<text x="501.8" y="240.425" font-size="6.8" text-anchor="end" font-family="'Liberation Sans', sans-serif" fill="#222">2000</text>
<line x1="503.2" y1="271.75" x2="505.8" y2="271.75" stroke="#222" stroke-width="0.8"/>
<text x="501.8" y="274.15" font-size="6.8" text-anchor="end" font-family="'Liberation Sans', sans-serif" fill="#222">0</text>
<line x1="503.2" y1="305.475" x2="505.8" y2="305.475" stroke="#222" stroke-width="0.8"/>
<text x="501.8" y="307.875" font-size="6.8" text-anchor="end" font-family="'Liberation Sans', sans-serif" fill="#222">-2000</text>
<line x1="503.2" y1="339.2" x2="505.8" y2="339.2" stroke="#222" stroke-width="0.8"/>
<text x="501.8" y="341.59999999999997" font-size="6.8" text-anchor="end" font-family="'Liberation Sans', sans-serif" fill="#222">-4000</text>
<line x1="504.3" y1="221.16250000000002" x2="505.8" y2="221.16250000000002" stroke="#222" stroke-width="0.8"/>
<line x1="504.3" y1="254.8875" x2="505.8" y2="254.8875" stroke="#222" stroke-width="0.8"/>
<line x1="504.3" y1="288.6125" x2="505.8" y2="288.6125" stroke="#222" stroke-width="0.8"/>
<line x1="504.3" y1="322.3375" x2="505.8" y2="322.3375" stroke="#222" stroke-width="0.8"/>
<line x1="505.8" y1="339.2" x2="505.8" y2="342.0" stroke="#222" stroke-width="0.8"/>
<text x="505.8" y="349.5" font-size="6.8" text-anchor="middle" font-family="'Liberation Sans', sans-serif" fill="#222">-6</text>
<line x1="519.7666666666667" y1="339.2" x2="519.7666666666667" y2="340.8" stroke="#222" stroke-width="0.8"/>
<line x1="533.7333333333333" y1="339.2" x2="533.7333333333333" y2="342.0" stroke="#222" stroke-width="0.8"/>
<text x="533.7333333333333" y="349.5" font-size="6.8" text-anchor="middle" font-family="'Liberation Sans', sans-serif" fill="#222">-4</text>
<line x1="547.7" y1="339.2" x2="547.7" y2="340.8" stroke="#222" stroke-width="0.8"/>
<line x1="561.6666666666666" y1="339.2" x2="561.6666666666666" y2="342.0" stroke="#222" stroke-width="0.8"/>
<text x="561.6666666666666" y="349.5" font-size="6.8" text-anchor="middle" font-family="'Liberation Sans', sans-serif" fill="#222">-2</text>
<line x1="575.6333333333333" y1="339.2" x2="575.6333333333333" y2="340.8" stroke="#222" stroke-width="0.8"/>
<line x1="589.6" y1="339.2" x2="589.6" y2="342.0" stroke="#222" stroke-width="0.8"/>
<text x="589.6" y="349.5" font-size="6.8" text-anchor="middle" font-family="'Liberation Sans', sans-serif" fill="#222">0</text>
<line x1="603.5666666666666" y1="339.2" x2="603.5666666666666" y2="340.8" stroke="#222" stroke-width="0.8"/>
<line x1="617.5333333333333" y1="339.2" x2="617.5333333333333" y2="342.0" stroke="#222" stroke-width="0.8"/>
<text x="617.5333333333333" y="349.5" font-size="6.8" text-anchor="middle" font-family="'Liberation Sans', sans-serif" fill="#222">2</text>
<line x1="631.5" y1="339.2" x2="631.5" y2="340.8" stroke="#222" stroke-width="0.8"/>
<line x1="645.4666666666667" y1="339.2" x2="645.4666666666667" y2="342.0" stroke="#222" stroke-width="0.8"/>
<text x="645.4666666666667" y="349.5" font-size="6.8" text-anchor="middle" font-family="'Liberation Sans', sans-serif" fill="#222">4</text>
<line x1="659.4333333333333" y1="339.2" x2="659.4333333333333" y2="340.8" stroke="#222" stroke-width="0.8"/>
<line x1="673.4" y1="339.2" x2="673.4" y2="342.0" stroke="#222" stroke-width="0.8"/>
<text x="673.4" y="349.5" font-size="6.8" text-anchor="middle" font-family="'Liberation Sans', sans-serif" fill="#222">6</text>
<text x="589.6" y="362.3" font-size="8.4" text-anchor="middle" font-family="'Liberation Sans', sans-serif" fill="#222">Bias (V)</text>
<text transform="translate(480.40000000000003,271.75) rotate(-90)" x="0" y="0" font-size="8.35" text-anchor="middle" font-family="'Liberation Sans', sans-serif" fill="#222">Current (nA)</text>
<text x="461.6" y="189.8" font-size="15.5" font-weight="bold" font-family="'Liberation Sans', sans-serif" fill="#000">d</text>
<text x="565.1" y="298.8" font-size="15.15" font-family="'Liberation Sans', sans-serif" fill="#f21818">96.9% ± 0.3%</text>
<text x="531.2" y="324.3" font-size="15.0" font-family="'Liberation Sans', sans-serif" fill="#111">(S)-Na</text>
<line x1="609.9" y1="314.8" x2="623.6" y2="314.8" stroke="#8cc3ec" stroke-width="0.8"/>
<line x1="609.9" y1="324.8" x2="623.6" y2="324.8" stroke="#f5b8b8" stroke-width="0.8"/>
<text x="627.4" y="317.3" font-size="7" font-family="'Liberation Sans', sans-serif" fill="#333">Mag Up</text>
<text x="627.4" y="327.3" font-size="7" font-family="'Liberation Sans', sans-serif" fill="#333">Mag Down</text>
<path d="M556.40,240.10 C554.10,239.42 555.48,236.85 554.80,235.20 C554.12,233.55 553.13,231.72 552.30,230.20 C551.47,228.68 550.43,227.47 549.80,226.10 C549.17,224.73 548.63,223.37 548.50,222.00 C548.37,220.63 548.50,219.00 549.00,217.90 C549.50,216.80 550.27,216.03 551.50,215.40 C552.73,214.77 554.75,214.28 556.40,214.10 C558.05,213.92 559.88,213.88 561.40,214.30 C562.92,214.72 564.40,215.45 565.50,216.60 C566.60,217.75 567.37,219.33 568.00,221.20 C568.63,223.07 569.07,225.60 569.30,227.80 C569.53,230.00 569.52,232.48 569.40,234.40 C569.28,236.32 570.77,238.35 568.60,239.30 C566.43,240.25 558.70,240.78 556.40,240.10 Z" fill="url(#pdb0)" stroke="#b07c4c" stroke-width="0.6"/>
<path d="M555.60,246.70 C554.35,245.88 551.72,246.90 549.80,247.60 C547.88,248.30 545.47,249.53 544.10,250.90 C542.73,252.27 542.15,254.17 541.60,255.80 C541.05,257.43 540.53,259.18 540.80,260.70 C541.07,262.22 542.10,264.35 543.20,264.90 C544.30,265.45 545.88,264.97 547.40,264.00 C548.92,263.03 550.65,261.02 552.30,259.10 C553.95,257.18 556.75,254.57 557.30,252.50 C557.85,250.43 556.85,247.52 555.60,246.70 Z" fill="url(#pdb1)" stroke="#b07c4c" stroke-width="0.6"/>
<path d="M568.00,246.70 C568.97,245.73 572.13,246.42 574.60,246.70 C577.07,246.98 580.75,247.57 582.80,248.40 C584.85,249.23 585.93,250.33 586.90,251.70 C587.87,253.07 588.73,255.10 588.60,256.60 C588.47,258.10 587.48,260.02 586.10,260.70 C584.72,261.38 582.37,261.38 580.30,260.70 C578.23,260.02 575.62,257.97 573.70,256.60 C571.78,255.23 569.75,254.15 568.80,252.50 C567.85,250.85 567.03,247.67 568.00,246.70 Z" fill="url(#pdb2)" stroke="#b07c4c" stroke-width="0.6"/>
<ellipse cx="562.40" cy="245.5" rx="7.70" ry="7.0" fill="#fdf0e2"/>
<circle cx="561.2" cy="245.5" r="7.0" fill="url(#pdh)" stroke="#b07c4c" stroke-width="0.3"/>
</svg></body></html>
